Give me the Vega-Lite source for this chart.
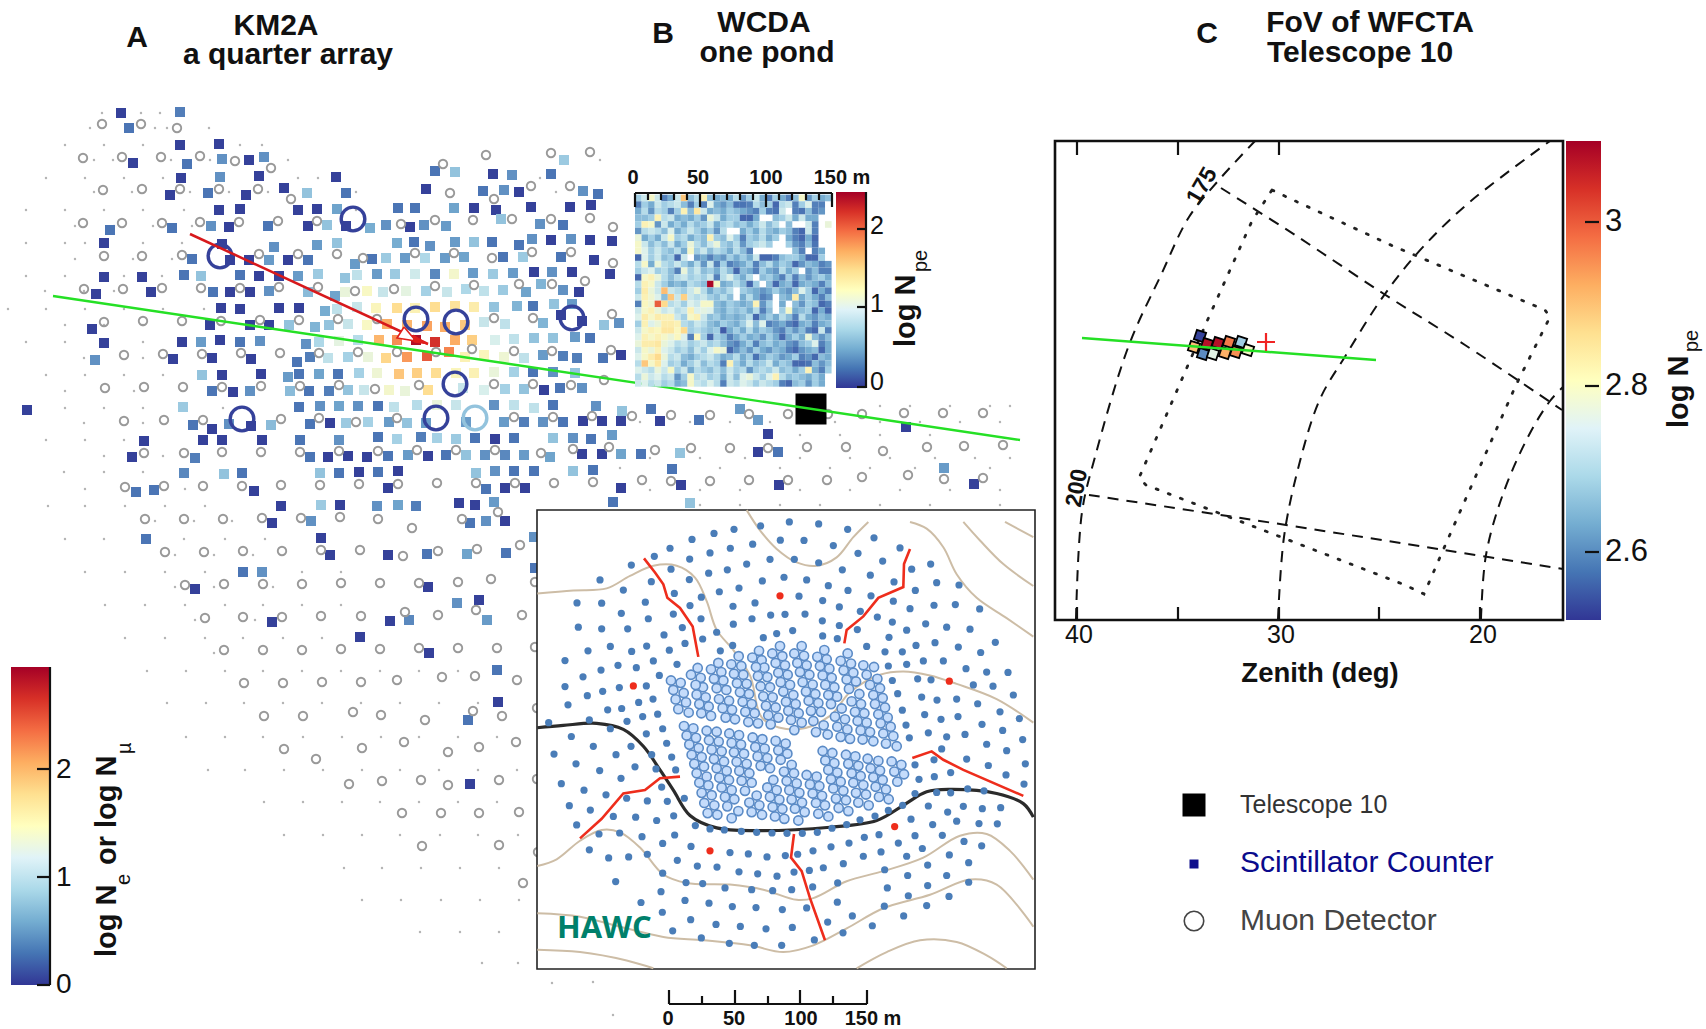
{"$schema":"https://vega.github.io/schema/vega-lite/v6.json","width":1706,"height":1029,"padding":0,"autosize":{"type":"none"},"background":"white","config":{"view":{"stroke":null},"font":"Liberation Sans"},
"datasets":{
"dots":[{"x":102,"y":113},{"x":141,"y":113},{"x":160,"y":113},{"x":90,"y":128},{"x":155,"y":128},{"x":167,"y":128},{"x":209,"y":128},{"x":65,"y":145},{"x":104,"y":145},{"x":143,"y":145},{"x":240,"y":145},{"x":262,"y":145},{"x":94,"y":160},{"x":113,"y":160},{"x":171,"y":160},{"x":210,"y":160},{"x":288,"y":160},{"x":600,"y":160},{"x":46,"y":178},{"x":85,"y":178},{"x":124,"y":178},{"x":163,"y":178},{"x":298,"y":178},{"x":318,"y":178},{"x":540,"y":178},{"x":94,"y":192},{"x":132,"y":192},{"x":190,"y":192},{"x":229,"y":192},{"x":268,"y":192},{"x":356,"y":192},{"x":516,"y":192},{"x":556,"y":192},{"x":26,"y":210},{"x":65,"y":210},{"x":104,"y":210},{"x":143,"y":210},{"x":184,"y":210},{"x":356,"y":210},{"x":395,"y":210},{"x":75,"y":226},{"x":114,"y":226},{"x":153,"y":226},{"x":192,"y":226},{"x":26,"y":243},{"x":65,"y":243},{"x":85,"y":243},{"x":143,"y":243},{"x":182,"y":243},{"x":75,"y":259},{"x":133,"y":259},{"x":172,"y":259},{"x":26,"y":276},{"x":65,"y":276},{"x":124,"y":276},{"x":162,"y":276},{"x":45,"y":291},{"x":84,"y":291},{"x":114,"y":291},{"x":8,"y":309},{"x":46,"y":309},{"x":85,"y":309},{"x":124,"y":309},{"x":163,"y":309},{"x":204,"y":309},{"x":65,"y":325},{"x":104,"y":325},{"x":143,"y":325},{"x":26,"y":342},{"x":65,"y":342},{"x":143,"y":342},{"x":84,"y":358},{"x":143,"y":358},{"x":46,"y":375},{"x":85,"y":375},{"x":124,"y":375},{"x":163,"y":375},{"x":65,"y":391},{"x":134,"y":391},{"x":65,"y":408},{"x":104,"y":408},{"x":143,"y":408},{"x":223,"y":408},{"x":84,"y":423},{"x":143,"y":423},{"x":46,"y":440},{"x":85,"y":440},{"x":124,"y":440},{"x":104,"y":456},{"x":163,"y":456},{"x":64,"y":472},{"x":104,"y":472},{"x":143,"y":472},{"x":85,"y":489},{"x":185,"y":489},{"x":48,"y":506},{"x":85,"y":506},{"x":125,"y":506},{"x":165,"y":506},{"x":205,"y":506},{"x":155,"y":521},{"x":194,"y":521},{"x":232,"y":521},{"x":65,"y":539},{"x":104,"y":539},{"x":184,"y":539},{"x":225,"y":539},{"x":265,"y":539},{"x":175,"y":555},{"x":214,"y":555},{"x":253,"y":555},{"x":85,"y":572},{"x":125,"y":572},{"x":165,"y":572},{"x":205,"y":572},{"x":302,"y":572},{"x":341,"y":572},{"x":175,"y":587},{"x":214,"y":587},{"x":273,"y":587},{"x":105,"y":605},{"x":145,"y":605},{"x":185,"y":605},{"x":225,"y":605},{"x":263,"y":605},{"x":302,"y":605},{"x":341,"y":605},{"x":195,"y":620},{"x":255,"y":620},{"x":125,"y":638},{"x":165,"y":638},{"x":205,"y":638},{"x":243,"y":638},{"x":283,"y":638},{"x":322,"y":638},{"x":214,"y":653},{"x":147,"y":671},{"x":186,"y":671},{"x":225,"y":671},{"x":263,"y":671},{"x":302,"y":671},{"x":341,"y":671},{"x":380,"y":671},{"x":419,"y":671},{"x":458,"y":671},{"x":497,"y":671},{"x":167,"y":703},{"x":206,"y":703},{"x":244,"y":703},{"x":283,"y":703},{"x":322,"y":703},{"x":361,"y":703},{"x":400,"y":703},{"x":439,"y":703},{"x":478,"y":703},{"x":186,"y":737},{"x":225,"y":737},{"x":263,"y":737},{"x":303,"y":737},{"x":342,"y":737},{"x":381,"y":737},{"x":419,"y":737},{"x":458,"y":737},{"x":497,"y":737},{"x":208,"y":770},{"x":245,"y":770},{"x":284,"y":770},{"x":323,"y":770},{"x":362,"y":770},{"x":400,"y":770},{"x":439,"y":770},{"x":478,"y":770},{"x":517,"y":770},{"x":264,"y":802},{"x":303,"y":802},{"x":342,"y":802},{"x":380,"y":802},{"x":419,"y":802},{"x":458,"y":802},{"x":497,"y":802},{"x":284,"y":835},{"x":323,"y":835},{"x":362,"y":835},{"x":400,"y":835},{"x":440,"y":835},{"x":478,"y":835},{"x":518,"y":835},{"x":344,"y":868},{"x":382,"y":868},{"x":421,"y":868},{"x":460,"y":868},{"x":499,"y":868},{"x":362,"y":900},{"x":401,"y":900},{"x":441,"y":900},{"x":480,"y":900},{"x":519,"y":900},{"x":420,"y":932},{"x":460,"y":932},{"x":499,"y":932},{"x":482,"y":963},{"x":518,"y":963},{"x":552,"y":983},{"x":593,"y":982},{"x":613,"y":1015},{"x":880,"y":406},{"x":910,"y":406},{"x":950,"y":406},{"x":990,"y":406},{"x":1010,"y":406},{"x":640,"y":422},{"x":690,"y":422},{"x":730,"y":422},{"x":770,"y":422},{"x":835,"y":422},{"x":880,"y":422},{"x":920,"y":422},{"x":960,"y":422},{"x":1000,"y":422},{"x":800,"y":435},{"x":840,"y":435},{"x":880,"y":435},{"x":930,"y":435},{"x":650,"y":458},{"x":700,"y":458},{"x":745,"y":458},{"x":800,"y":458},{"x":850,"y":458},{"x":890,"y":458},{"x":935,"y":458},{"x":975,"y":458},{"x":1010,"y":458},{"x":620,"y":468},{"x":720,"y":468},{"x":780,"y":468},{"x":830,"y":468},{"x":870,"y":468},{"x":915,"y":468},{"x":990,"y":468},{"x":650,"y":490},{"x":700,"y":490},{"x":740,"y":490},{"x":800,"y":490},{"x":850,"y":490},{"x":900,"y":490},{"x":950,"y":490},{"x":1000,"y":490},{"x":700,"y":505},{"x":740,"y":505},{"x":780,"y":505},{"x":820,"y":505},{"x":880,"y":505},{"x":930,"y":505},{"x":1000,"y":505}],
"sq":[{"x":121,"y":113,"v":0.05},{"x":180,"y":112,"v":0.35},{"x":129,"y":128,"v":0.3},{"x":180,"y":145,"v":0.05},{"x":219,"y":144,"v":0.05},{"x":133,"y":163,"v":0.05},{"x":187,"y":164,"v":0.3},{"x":222,"y":159,"v":0.45},{"x":249,"y":160,"v":0.05},{"x":264,"y":157,"v":0.45},{"x":181,"y":178,"v":0.05},{"x":220,"y":177,"v":0.45},{"x":259,"y":176,"v":0.05},{"x":336,"y":177,"v":0.05},{"x":435,"y":171,"v":0.3},{"x":455,"y":172,"v":0.75},{"x":564,"y":160,"v":0.8},{"x":493,"y":174,"v":0.05},{"x":512,"y":175,"v":0.45},{"x":551,"y":174,"v":0.3},{"x":170,"y":195,"v":0.05},{"x":208,"y":193,"v":0.3},{"x":246,"y":195,"v":0.05},{"x":284,"y":188,"v":0.05},{"x":307,"y":193,"v":0.75},{"x":346,"y":193,"v":0.3},{"x":426,"y":189,"v":0.05},{"x":483,"y":191,"v":0.3},{"x":504,"y":190,"v":0.45},{"x":519,"y":192,"v":0.05},{"x":583,"y":191,"v":0.45},{"x":598,"y":194,"v":0.3},{"x":219,"y":210,"v":0.05},{"x":240,"y":209,"v":0.05},{"x":298,"y":210,"v":0.05},{"x":317,"y":209,"v":0.05},{"x":337,"y":209,"v":0.55},{"x":398,"y":208,"v":0.3},{"x":415,"y":208,"v":0.3},{"x":454,"y":208,"v":0.55},{"x":474,"y":208,"v":0.05},{"x":496,"y":210,"v":0.05},{"x":531,"y":207,"v":0.05},{"x":570,"y":207,"v":0.05},{"x":591,"y":205,"v":0.05},{"x":110,"y":230,"v":0.3},{"x":172,"y":228,"v":0.3},{"x":211,"y":226,"v":0.45},{"x":229,"y":227,"v":0.05},{"x":268,"y":226,"v":0.3},{"x":308,"y":226,"v":0.05},{"x":327,"y":225,"v":0.75},{"x":346,"y":226,"v":0.05},{"x":370,"y":228,"v":0.6},{"x":386,"y":225,"v":0.45},{"x":410,"y":227,"v":0.05},{"x":424,"y":225,"v":0.45},{"x":446,"y":226,"v":0.5},{"x":501,"y":219,"v":0.75},{"x":540,"y":224,"v":0.45},{"x":563,"y":225,"v":0.3},{"x":104,"y":243,"v":0.05},{"x":222,"y":244,"v":0.05},{"x":274,"y":247,"v":0.45},{"x":317,"y":245,"v":0.5},{"x":337,"y":243,"v":0.75},{"x":397,"y":243,"v":0.6},{"x":414,"y":242,"v":0.3},{"x":430,"y":246,"v":0.45},{"x":455,"y":242,"v":0.5},{"x":474,"y":242,"v":0.75},{"x":492,"y":242,"v":0.3},{"x":519,"y":245,"v":0.3},{"x":532,"y":239,"v":0.45},{"x":551,"y":240,"v":0.05},{"x":571,"y":239,"v":0.45},{"x":590,"y":240,"v":0.05},{"x":612,"y":241,"v":0.05},{"x":192,"y":259,"v":0.3},{"x":230,"y":260,"v":0.05},{"x":249,"y":260,"v":0.05},{"x":269,"y":260,"v":0.5},{"x":288,"y":260,"v":0.05},{"x":308,"y":260,"v":0.3},{"x":355,"y":264,"v":0.5},{"x":372,"y":259,"v":0.3},{"x":386,"y":258,"v":0.8},{"x":405,"y":258,"v":0.5},{"x":425,"y":258,"v":0.9},{"x":445,"y":258,"v":0.5},{"x":464,"y":257,"v":0.55},{"x":503,"y":257,"v":0.3},{"x":523,"y":257,"v":0.8},{"x":561,"y":257,"v":0.3},{"x":594,"y":260,"v":0.05},{"x":184,"y":275,"v":0.3},{"x":201,"y":276,"v":0.75},{"x":240,"y":275,"v":0.3},{"x":259,"y":276,"v":0.05},{"x":279,"y":276,"v":0.05},{"x":298,"y":276,"v":0.5},{"x":318,"y":274,"v":0.8},{"x":345,"y":278,"v":0.75},{"x":357,"y":275,"v":1.0},{"x":377,"y":274,"v":0.5},{"x":395,"y":274,"v":0.8},{"x":415,"y":274,"v":1.1},{"x":435,"y":274,"v":0.4},{"x":454,"y":274,"v":1.4},{"x":473,"y":273,"v":0.5},{"x":493,"y":274,"v":0.8},{"x":513,"y":273,"v":0.5},{"x":534,"y":272,"v":0.05},{"x":552,"y":272,"v":0.45},{"x":572,"y":272,"v":0.05},{"x":610,"y":274,"v":0.05},{"x":104,"y":277,"v":0.05},{"x":142,"y":277,"v":0.05},{"x":96,"y":294,"v":0.05},{"x":151,"y":292,"v":0.05},{"x":213,"y":292,"v":0.3},{"x":230,"y":292,"v":0.05},{"x":250,"y":292,"v":0.05},{"x":269,"y":291,"v":0.45},{"x":308,"y":292,"v":0.7},{"x":335,"y":296,"v":0.55},{"x":345,"y":292,"v":1.3},{"x":367,"y":291,"v":1.45},{"x":383,"y":292,"v":1.05},{"x":406,"y":291,"v":1.25},{"x":426,"y":291,"v":0.85},{"x":447,"y":292,"v":1.05},{"x":466,"y":289,"v":0.9},{"x":484,"y":291,"v":1.0},{"x":503,"y":290,"v":0.8},{"x":526,"y":292,"v":0.55},{"x":541,"y":284,"v":0.65},{"x":563,"y":290,"v":0.45},{"x":579,"y":292,"v":0.05},{"x":221,"y":308,"v":0.05},{"x":240,"y":309,"v":0.05},{"x":279,"y":308,"v":0.05},{"x":299,"y":308,"v":0.05},{"x":325,"y":311,"v":0.6},{"x":337,"y":309,"v":1.0},{"x":357,"y":307,"v":1.05},{"x":376,"y":308,"v":1.5},{"x":397,"y":308,"v":1.75},{"x":415,"y":308,"v":1.55},{"x":435,"y":307,"v":1.75},{"x":455,"y":306,"v":1.7},{"x":474,"y":307,"v":1.6},{"x":494,"y":307,"v":0.75},{"x":517,"y":306,"v":0.65},{"x":533,"y":306,"v":0.3},{"x":554,"y":304,"v":0.75},{"x":572,"y":304,"v":0.5},{"x":561,"y":315,"v":0.05},{"x":582,"y":321,"v":0.05},{"x":92,"y":329,"v":0.05},{"x":210,"y":325,"v":0.05},{"x":250,"y":325,"v":0.05},{"x":269,"y":325,"v":0.05},{"x":289,"y":325,"v":0.75},{"x":315,"y":327,"v":0.65},{"x":329,"y":325,"v":0.75},{"x":348,"y":324,"v":1.05},{"x":367,"y":325,"v":1.45},{"x":387,"y":324,"v":2.05},{"x":407,"y":325,"v":2.0},{"x":427,"y":326,"v":2.1},{"x":445,"y":327,"v":2.05},{"x":465,"y":325,"v":1.9},{"x":484,"y":322,"v":1.05},{"x":505,"y":324,"v":1.0},{"x":543,"y":323,"v":0.65},{"x":604,"y":325,"v":0.75},{"x":619,"y":323,"v":0.45},{"x":104,"y":343,"v":0.05},{"x":182,"y":342,"v":0.05},{"x":201,"y":342,"v":0.5},{"x":220,"y":340,"v":0.05},{"x":240,"y":342,"v":0.3},{"x":260,"y":341,"v":0.45},{"x":306,"y":344,"v":0.45},{"x":319,"y":342,"v":0.9},{"x":339,"y":341,"v":1.25},{"x":358,"y":340,"v":0.95},{"x":379,"y":340,"v":2.0},{"x":397,"y":340,"v":2.2},{"x":416,"y":340,"v":2.85},{"x":435,"y":342,"v":2.65},{"x":455,"y":340,"v":2.05},{"x":472,"y":340,"v":1.85},{"x":495,"y":340,"v":1.15},{"x":514,"y":339,"v":1.0},{"x":534,"y":338,"v":0.75},{"x":553,"y":338,"v":0.75},{"x":575,"y":337,"v":0.5},{"x":590,"y":338,"v":0.3},{"x":95,"y":360,"v":0.45},{"x":173,"y":359,"v":0.05},{"x":212,"y":358,"v":0.05},{"x":251,"y":359,"v":0.05},{"x":297,"y":362,"v":0.3},{"x":310,"y":357,"v":0.35},{"x":328,"y":358,"v":1.0},{"x":348,"y":357,"v":0.85},{"x":368,"y":357,"v":1.3},{"x":386,"y":358,"v":1.8},{"x":407,"y":357,"v":2.15},{"x":427,"y":356,"v":2.45},{"x":449,"y":352,"v":2.25},{"x":465,"y":357,"v":1.55},{"x":484,"y":355,"v":1.5},{"x":504,"y":357,"v":1.35},{"x":524,"y":358,"v":1.0},{"x":543,"y":355,"v":0.5},{"x":563,"y":356,"v":0.35},{"x":577,"y":358,"v":0.35},{"x":603,"y":358,"v":0.3},{"x":621,"y":355,"v":0.05},{"x":202,"y":375,"v":0.75},{"x":222,"y":375,"v":0.05},{"x":261,"y":374,"v":0.05},{"x":288,"y":377,"v":0.5},{"x":299,"y":374,"v":0.3},{"x":319,"y":374,"v":0.55},{"x":338,"y":374,"v":0.3},{"x":359,"y":373,"v":0.85},{"x":377,"y":373,"v":1.35},{"x":399,"y":374,"v":1.9},{"x":417,"y":373,"v":1.85},{"x":436,"y":373,"v":1.75},{"x":456,"y":373,"v":1.5},{"x":474,"y":373,"v":1.55},{"x":494,"y":372,"v":1.3},{"x":514,"y":372,"v":0.85},{"x":533,"y":372,"v":0.3},{"x":553,"y":372,"v":0.45},{"x":575,"y":373,"v":0.75},{"x":212,"y":391,"v":0.3},{"x":233,"y":392,"v":0.05},{"x":250,"y":391,"v":0.45},{"x":290,"y":391,"v":0.7},{"x":309,"y":391,"v":0.3},{"x":329,"y":391,"v":0.35},{"x":348,"y":390,"v":0.75},{"x":364,"y":390,"v":1.05},{"x":389,"y":390,"v":1.4},{"x":405,"y":391,"v":1.3},{"x":428,"y":390,"v":1.75},{"x":463,"y":388,"v":1.05},{"x":484,"y":390,"v":1.15},{"x":505,"y":389,"v":0.85},{"x":524,"y":389,"v":0.75},{"x":544,"y":390,"v":0.05},{"x":560,"y":388,"v":0.3},{"x":582,"y":388,"v":0.45},{"x":27,"y":410,"v":0.05},{"x":183,"y":407,"v":0.8},{"x":299,"y":407,"v":0.3},{"x":320,"y":406,"v":0.45},{"x":339,"y":406,"v":0.55},{"x":358,"y":406,"v":0.45},{"x":378,"y":406,"v":0.3},{"x":394,"y":407,"v":1.0},{"x":417,"y":405,"v":0.95},{"x":437,"y":405,"v":1.3},{"x":456,"y":405,"v":1.05},{"x":494,"y":405,"v":0.45},{"x":514,"y":405,"v":1.0},{"x":534,"y":408,"v":1.0},{"x":553,"y":405,"v":0.3},{"x":596,"y":406,"v":0.45},{"x":622,"y":411,"v":0.75},{"x":193,"y":425,"v":0.3},{"x":212,"y":429,"v":0.05},{"x":229,"y":424,"v":0.45},{"x":251,"y":426,"v":0.05},{"x":271,"y":425,"v":0.7},{"x":310,"y":424,"v":0.3},{"x":330,"y":423,"v":0.05},{"x":346,"y":423,"v":0.8},{"x":368,"y":422,"v":0.85},{"x":389,"y":422,"v":0.5},{"x":407,"y":423,"v":0.75},{"x":426,"y":423,"v":0.5},{"x":466,"y":422,"v":0.5},{"x":504,"y":422,"v":0.5},{"x":524,"y":422,"v":0.35},{"x":543,"y":422,"v":0.45},{"x":563,"y":422,"v":0.3},{"x":583,"y":421,"v":0.05},{"x":602,"y":421,"v":0.05},{"x":621,"y":421,"v":0.05},{"x":144,"y":441,"v":0.05},{"x":203,"y":440,"v":0.05},{"x":222,"y":440,"v":0.05},{"x":262,"y":440,"v":0.05},{"x":300,"y":440,"v":0.3},{"x":339,"y":440,"v":0.45},{"x":378,"y":437,"v":0.3},{"x":397,"y":439,"v":0.85},{"x":421,"y":437,"v":0.35},{"x":437,"y":438,"v":0.85},{"x":456,"y":439,"v":0.8},{"x":475,"y":438,"v":0.3},{"x":495,"y":439,"v":0.05},{"x":514,"y":438,"v":0.3},{"x":553,"y":438,"v":0.75},{"x":573,"y":438,"v":0.45},{"x":591,"y":439,"v":0.3},{"x":612,"y":435,"v":0.5},{"x":132,"y":457,"v":0.05},{"x":195,"y":458,"v":0.35},{"x":310,"y":457,"v":0.3},{"x":328,"y":457,"v":0.05},{"x":348,"y":456,"v":0.05},{"x":367,"y":457,"v":0.05},{"x":388,"y":456,"v":0.3},{"x":408,"y":455,"v":0.5},{"x":428,"y":456,"v":0.05},{"x":446,"y":455,"v":0.3},{"x":466,"y":455,"v":0.75},{"x":485,"y":455,"v":0.45},{"x":505,"y":455,"v":0.4},{"x":524,"y":455,"v":0.5},{"x":550,"y":457,"v":0.55},{"x":582,"y":454,"v":0.05},{"x":602,"y":454,"v":0.05},{"x":621,"y":454,"v":0.55},{"x":184,"y":473,"v":0.4},{"x":224,"y":474,"v":0.75},{"x":242,"y":473,"v":0.3},{"x":320,"y":473,"v":0.75},{"x":339,"y":473,"v":0.3},{"x":359,"y":472,"v":0.05},{"x":378,"y":472,"v":0.3},{"x":398,"y":471,"v":0.05},{"x":476,"y":473,"v":0.75},{"x":495,"y":471,"v":0.45},{"x":514,"y":471,"v":0.3},{"x":534,"y":471,"v":0.3},{"x":573,"y":471,"v":0.75},{"x":593,"y":470,"v":0.3},{"x":136,"y":492,"v":0.3},{"x":154,"y":490,"v":0.3},{"x":254,"y":491,"v":0.05},{"x":388,"y":488,"v":0.05},{"x":486,"y":489,"v":0.3},{"x":505,"y":488,"v":0.05},{"x":525,"y":488,"v":0.05},{"x":621,"y":488,"v":0.05},{"x":281,"y":506,"v":0.05},{"x":321,"y":505,"v":0.8},{"x":340,"y":505,"v":0.05},{"x":377,"y":506,"v":0.45},{"x":398,"y":505,"v":0.55},{"x":416,"y":506,"v":0.35},{"x":459,"y":503,"v":0.05},{"x":475,"y":505,"v":0.05},{"x":494,"y":502,"v":0.5},{"x":613,"y":502,"v":0.3},{"x":690,"y":503,"v":0.75},{"x":272,"y":523,"v":0.05},{"x":311,"y":521,"v":0.45},{"x":470,"y":523,"v":0.3},{"x":486,"y":521,"v":0.45},{"x":505,"y":521,"v":0.05},{"x":146,"y":539,"v":0.3},{"x":321,"y":538,"v":0.05},{"x":534,"y":537,"v":0.45},{"x":330,"y":555,"v":0.05},{"x":388,"y":555,"v":0.05},{"x":427,"y":554,"v":0.3},{"x":467,"y":554,"v":0.55},{"x":506,"y":553,"v":0.3},{"x":243,"y":572,"v":0.3},{"x":262,"y":572,"v":0.45},{"x":535,"y":568,"v":0.3},{"x":195,"y":589,"v":0.05},{"x":428,"y":587,"v":0.05},{"x":457,"y":603,"v":0.45},{"x":479,"y":600,"v":0.05},{"x":272,"y":622,"v":0.05},{"x":390,"y":621,"v":0.05},{"x":409,"y":620,"v":0.4},{"x":487,"y":620,"v":0.5},{"x":360,"y":637,"v":0.05},{"x":429,"y":653,"v":0.05},{"x":497,"y":670,"v":0.3},{"x":498,"y":702,"v":0.05},{"x":468,"y":720,"v":0.3},{"x":470,"y":784,"v":0.05},{"x":651,"y":409,"v":0.3},{"x":660,"y":421,"v":0.05},{"x":699,"y":420,"v":0.3},{"x":740,"y":409,"v":0.5},{"x":758,"y":420,"v":0.5},{"x":768,"y":434,"v":0.05},{"x":906,"y":427,"v":0.05},{"x":641,"y":454,"v":0.3},{"x":680,"y":453,"v":0.75},{"x":758,"y":452,"v":0.05},{"x":778,"y":452,"v":0.3},{"x":672,"y":469,"v":0.3},{"x":681,"y":485,"v":0.05},{"x":779,"y":485,"v":0.05},{"x":944,"y":468,"v":0.5},{"x":974,"y":484,"v":0.05}],
"mu":[{"x":102,"y":124},{"x":141,"y":124},{"x":177,"y":128},{"x":83,"y":158},{"x":122,"y":157},{"x":161,"y":157},{"x":200,"y":156},{"x":235,"y":161},{"x":271,"y":168},{"x":443,"y":164},{"x":486,"y":155},{"x":551,"y":153},{"x":590,"y":152},{"x":103,"y":190},{"x":142,"y":189},{"x":180,"y":189},{"x":219,"y":189},{"x":258,"y":189},{"x":291,"y":199},{"x":450,"y":193},{"x":494,"y":199},{"x":531,"y":186},{"x":570,"y":186},{"x":83,"y":223},{"x":122,"y":223},{"x":162,"y":223},{"x":200,"y":222},{"x":239,"y":222},{"x":278,"y":221},{"x":317,"y":221},{"x":401,"y":224},{"x":435,"y":220},{"x":473,"y":220},{"x":512,"y":219},{"x":551,"y":219},{"x":590,"y":218},{"x":613,"y":227},{"x":104,"y":256},{"x":142,"y":256},{"x":182,"y":255},{"x":259,"y":254},{"x":298,"y":254},{"x":337,"y":254},{"x":363,"y":258},{"x":415,"y":253},{"x":454,"y":253},{"x":492,"y":258},{"x":532,"y":252},{"x":571,"y":252},{"x":613,"y":263},{"x":84,"y":289},{"x":123,"y":289},{"x":162,"y":288},{"x":201,"y":288},{"x":240,"y":288},{"x":279,"y":287},{"x":318,"y":287},{"x":355,"y":291},{"x":394,"y":289},{"x":435,"y":286},{"x":474,"y":285},{"x":519,"y":284},{"x":552,"y":284},{"x":585,"y":281},{"x":104,"y":322},{"x":143,"y":321},{"x":182,"y":321},{"x":221,"y":321},{"x":260,"y":320},{"x":299,"y":320},{"x":338,"y":319},{"x":377,"y":319},{"x":494,"y":318},{"x":533,"y":318},{"x":612,"y":314},{"x":124,"y":355},{"x":163,"y":354},{"x":202,"y":354},{"x":241,"y":353},{"x":280,"y":353},{"x":319,"y":353},{"x":358,"y":352},{"x":397,"y":352},{"x":436,"y":352},{"x":472,"y":349},{"x":514,"y":351},{"x":552,"y":351},{"x":611,"y":350},{"x":105,"y":388},{"x":144,"y":387},{"x":183,"y":387},{"x":222,"y":387},{"x":261,"y":386},{"x":300,"y":386},{"x":339,"y":385},{"x":375,"y":389},{"x":419,"y":385},{"x":494,"y":384},{"x":533,"y":384},{"x":571,"y":385},{"x":604,"y":380},{"x":124,"y":421},{"x":164,"y":420},{"x":203,"y":420},{"x":281,"y":419},{"x":319,"y":418},{"x":356,"y":422},{"x":397,"y":418},{"x":514,"y":417},{"x":553,"y":417},{"x":592,"y":416},{"x":632,"y":416},{"x":144,"y":453},{"x":184,"y":453},{"x":222,"y":452},{"x":261,"y":452},{"x":300,"y":452},{"x":339,"y":451},{"x":378,"y":451},{"x":417,"y":450},{"x":456,"y":450},{"x":495,"y":450},{"x":541,"y":453},{"x":573,"y":449},{"x":609,"y":447},{"x":125,"y":487},{"x":164,"y":486},{"x":203,"y":486},{"x":242,"y":486},{"x":281,"y":485},{"x":320,"y":485},{"x":359,"y":484},{"x":398,"y":484},{"x":437,"y":483},{"x":476,"y":483},{"x":515,"y":483},{"x":554,"y":483},{"x":593,"y":482},{"x":145,"y":519},{"x":184,"y":519},{"x":223,"y":519},{"x":262,"y":518},{"x":301,"y":518},{"x":340,"y":517},{"x":378,"y":519},{"x":412,"y":528},{"x":462,"y":519},{"x":498,"y":512},{"x":165,"y":552},{"x":204,"y":552},{"x":243,"y":551},{"x":282,"y":551},{"x":321,"y":550},{"x":360,"y":550},{"x":403,"y":556},{"x":438,"y":551},{"x":477,"y":549},{"x":520,"y":545},{"x":185,"y":585},{"x":224,"y":584},{"x":263,"y":584},{"x":302,"y":584},{"x":341,"y":583},{"x":380,"y":583},{"x":419,"y":583},{"x":458,"y":582},{"x":491,"y":579},{"x":535,"y":582},{"x":205,"y":618},{"x":243,"y":617},{"x":282,"y":617},{"x":321,"y":616},{"x":361,"y":616},{"x":405,"y":612},{"x":438,"y":615},{"x":476,"y":610},{"x":522,"y":615},{"x":224,"y":650},{"x":263,"y":650},{"x":302,"y":650},{"x":341,"y":649},{"x":380,"y":649},{"x":419,"y":648},{"x":458,"y":648},{"x":497,"y":648},{"x":535,"y":647},{"x":244,"y":683},{"x":283,"y":683},{"x":322,"y":682},{"x":361,"y":682},{"x":397,"y":680},{"x":442,"y":677},{"x":475,"y":676},{"x":517,"y":680},{"x":264,"y":716},{"x":303,"y":716},{"x":353,"y":712},{"x":381,"y":715},{"x":425,"y":720},{"x":473,"y":711},{"x":502,"y":716},{"x":537,"y":708},{"x":284,"y":749},{"x":316,"y":759},{"x":362,"y":748},{"x":404,"y":742},{"x":448,"y":752},{"x":479,"y":747},{"x":516,"y":742},{"x":349,"y":784},{"x":382,"y":781},{"x":421,"y":780},{"x":448,"y":785},{"x":499,"y":780},{"x":537,"y":779},{"x":402,"y":813},{"x":441,"y":813},{"x":479,"y":813},{"x":519,"y":812},{"x":422,"y":846},{"x":499,"y":845},{"x":538,"y":852},{"x":523,"y":883},{"x":671,"y":415},{"x":710,"y":415},{"x":749,"y":414},{"x":788,"y":414},{"x":828,"y":414},{"x":862,"y":414},{"x":904,"y":413},{"x":943,"y":413},{"x":983,"y":413},{"x":655,"y":450},{"x":691,"y":448},{"x":730,"y":448},{"x":768,"y":448},{"x":807,"y":447},{"x":846,"y":447},{"x":883,"y":451},{"x":927,"y":447},{"x":964,"y":446},{"x":1003,"y":445},{"x":642,"y":480},{"x":671,"y":481},{"x":710,"y":481},{"x":749,"y":480},{"x":788,"y":480},{"x":827,"y":480},{"x":862,"y":477},{"x":908,"y":475},{"x":944,"y":479},{"x":983,"y":478}],
"bigr":[{"x":353,"y":219,"v":0.05},{"x":220,"y":256,"v":0.05},{"x":416,"y":319,"v":0.05},{"x":456,"y":322,"v":0.05},{"x":572,"y":318,"v":0.05},{"x":455,"y":384,"v":0.05},{"x":242,"y":419,"v":0.05},{"x":436,"y":418,"v":0.05},{"x":475,"y":418,"v":0.75}],
"arrow":[{"p":"a","o":1,"x":190,"y":234},{"p":"a","o":2,"x":428,"y":344}],
"whitetri":[{"p":"w","o":1,"x":404,"y":327},{"p":"w","o":2,"x":397,"y":338},{"p":"w","o":3,"x":416,"y":341},{"p":"w","o":4,"x":404,"y":327}],
"redtri":[{"p":"r","o":1,"x":413,"y":335},{"p":"r","o":2,"x":428,"y":344},{"p":"r","o":3,"x":414,"y":342},{"p":"r","o":4,"x":413,"y":335}],
"green":[{"p":"g1","o":1,"x":53,"y":296},{"p":"g1","o":2,"x":1020,"y":440},{"p":"g2","o":1,"x":1082,"y":338},{"p":"g2","o":2,"x":1376,"y":360}],
"tel":[{"x":811,"y":409}],
"inframe":[{"x":537,"x2":1035,"y":510,"y2":969}],
"tan":[{"p":"c1","o":1,"x":22,"y":277},{"p":"c1","o":2,"x":130,"y":268},{"p":"c1","o":3,"x":230,"y":262},{"p":"c1","o":4,"x":300,"y":225},{"p":"c1","o":5,"x":370,"y":195},{"p":"c1","o":6,"x":440,"y":195},{"p":"c1","o":7,"x":495,"y":230},{"p":"c1","o":8,"x":530,"y":300},{"p":"c1","o":9,"x":560,"y":385},{"p":"c1","o":10,"x":610,"y":445},{"p":"c1","o":11,"x":660,"y":520},{"p":"c1","o":12,"x":700,"y":650},{"p":"c1","o":13,"x":800,"y":680},{"p":"c1","o":14,"x":900,"y":640},{"p":"c1","o":15,"x":960,"y":570},{"p":"c1","o":16,"x":1050,"y":518},{"p":"c1","o":17,"x":1120,"y":508},{"p":"c1","o":18,"x":1200,"y":520},{"p":"c1","o":19,"x":1280,"y":545},{"p":"c1","o":20,"x":1400,"y":590},{"p":"c1","o":21,"x":1510,"y":660},{"p":"c2","o":1,"x":650,"y":30},{"p":"c2","o":2,"x":690,"y":90},{"p":"c2","o":3,"x":740,"y":145},{"p":"c2","o":4,"x":800,"y":185},{"p":"c2","o":5,"x":860,"y":195},{"p":"c2","o":6,"x":920,"y":170},{"p":"c2","o":7,"x":970,"y":110},{"p":"c2","o":8,"x":1015,"y":65},{"p":"c3","o":1,"x":1140,"y":65},{"p":"c3","o":2,"x":1190,"y":85},{"p":"c3","o":3,"x":1240,"y":140},{"p":"c3","o":4,"x":1280,"y":220},{"p":"c3","o":5,"x":1340,"y":290},{"p":"c3","o":6,"x":1430,"y":350},{"p":"c3","o":7,"x":1510,"y":405},{"p":"c4","o":1,"x":1300,"y":65},{"p":"c4","o":2,"x":1350,"y":120},{"p":"c4","o":3,"x":1420,"y":190},{"p":"c4","o":4,"x":1510,"y":255},{"p":"c5","o":1,"x":1425,"y":65},{"p":"c5","o":2,"x":1510,"y":110},{"p":"c7","o":1,"x":22,"y":1085},{"p":"c7","o":2,"x":80,"y":1065},{"p":"c7","o":3,"x":150,"y":1010},{"p":"c7","o":4,"x":215,"y":978},{"p":"c7","o":5,"x":270,"y":985},{"p":"c7","o":6,"x":330,"y":1030},{"p":"c7","o":7,"x":400,"y":1110},{"p":"c7","o":8,"x":470,"y":1135},{"p":"c7","o":9,"x":600,"y":1140},{"p":"c7","o":10,"x":700,"y":1155},{"p":"c7","o":11,"x":800,"y":1185},{"p":"c7","o":12,"x":850,"y":1180},{"p":"c7","o":13,"x":950,"y":1130},{"p":"c7","o":14,"x":1060,"y":1100},{"p":"c7","o":15,"x":1180,"y":1060},{"p":"c7","o":16,"x":1290,"y":995},{"p":"c7","o":17,"x":1370,"y":990},{"p":"c7","o":18,"x":1440,"y":1040},{"p":"c7","o":19,"x":1510,"y":1125},{"p":"c8","o":1,"x":22,"y":1225},{"p":"c8","o":2,"x":150,"y":1235},{"p":"c8","o":3,"x":270,"y":1265},{"p":"c8","o":4,"x":400,"y":1295},{"p":"c8","o":5,"x":520,"y":1305},{"p":"c8","o":6,"x":660,"y":1320},{"p":"c8","o":7,"x":760,"y":1340},{"p":"c8","o":8,"x":850,"y":1320},{"p":"c8","o":9,"x":950,"y":1270},{"p":"c8","o":10,"x":1060,"y":1210},{"p":"c8","o":11,"x":1200,"y":1170},{"p":"c8","o":12,"x":1320,"y":1125},{"p":"c8","o":13,"x":1400,"y":1140},{"p":"c8","o":14,"x":1510,"y":1265},{"p":"c9","o":1,"x":22,"y":1333},{"p":"c9","o":2,"x":150,"y":1340},{"p":"c9","o":3,"x":290,"y":1365},{"p":"c9","o":4,"x":370,"y":1388},{"p":"c10","o":1,"x":980,"y":1388},{"p":"c10","o":2,"x":1070,"y":1340},{"p":"c10","o":3,"x":1170,"y":1305},{"p":"c10","o":4,"x":1280,"y":1310},{"p":"c10","o":5,"x":1370,"y":1350},{"p":"c10","o":6,"x":1430,"y":1388}],
"road":[{"p":"b","o":1,"x":22,"y":675},{"p":"b","o":2,"x":100,"y":668},{"p":"b","o":3,"x":200,"y":662},{"p":"b","o":4,"x":280,"y":680},{"p":"b","o":5,"x":340,"y":730},{"p":"b","o":6,"x":390,"y":800},{"p":"b","o":7,"x":430,"y":860},{"p":"b","o":8,"x":480,"y":935},{"p":"b","o":9,"x":560,"y":972},{"p":"b","o":10,"x":680,"y":980},{"p":"b","o":11,"x":900,"y":970},{"p":"b","o":12,"x":1040,"y":950},{"p":"b","o":13,"x":1120,"y":905},{"p":"b","o":14,"x":1190,"y":865},{"p":"b","o":15,"x":1260,"y":858},{"p":"b","o":16,"x":1400,"y":870},{"p":"b","o":17,"x":1480,"y":900},{"p":"b","o":18,"x":1510,"y":940}],
"outer":[{"x":778,"y":65},{"x":866,"y":71},{"x":692,"y":77},{"x":612,"y":87},{"x":552,"y":99},{"x":953,"y":87},{"x":486,"y":117},{"x":751,"y":119},{"x":822,"y":120},{"x":1032,"y":112},{"x":668,"y":131},{"x":910,"y":135},{"x":420,"y":143},{"x":601,"y":143},{"x":1110,"y":142},{"x":373,"y":167},{"x":540,"y":157},{"x":984,"y":158},{"x":479,"y":175},{"x":720,"y":176},{"x":793,"y":176},{"x":1058,"y":181},{"x":304,"y":193},{"x":423,"y":205},{"x":592,"y":207},{"x":650,"y":190},{"x":866,"y":186},{"x":1145,"y":205},{"x":1202,"y":190},{"x":937,"y":207},{"x":536,"y":217},{"x":762,"y":229},{"x":697,"y":240},{"x":830,"y":237},{"x":1021,"y":223},{"x":210,"y":237},{"x":364,"y":242},{"x":478,"y":236},{"x":1092,"y":243},{"x":1220,"y":245},{"x":1287,"y":252},{"x":568,"y":272},{"x":627,"y":261},{"x":895,"y":254},{"x":954,"y":268},{"x":280,"y":267},{"x":433,"y":277},{"x":1156,"y":268},{"x":807,"y":285},{"x":514,"y":288},{"x":1023,"y":284},{"x":878,"y":298},{"x":1090,"y":300},{"x":141,"y":305},{"x":215,"y":306},{"x":346,"y":303},{"x":675,"y":305},{"x":1212,"y":312},{"x":1276,"y":310},{"x":1349,"y":323},{"x":609,"y":315},{"x":480,"y":313},{"x":928,"y":317},{"x":274,"y":336},{"x":430,"y":338},{"x":722,"y":341},{"x":765,"y":339},{"x":825,"y":338},{"x":991,"y":330},{"x":1140,"y":322},{"x":355,"y":352},{"x":513,"y":352},{"x":666,"y":352},{"x":877,"y":358},{"x":1042,"y":347},{"x":145,"y":377},{"x":215,"y":382},{"x":293,"y":382},{"x":610,"y":368},{"x":928,"y":372},{"x":1187,"y":367},{"x":1087,"y":362},{"x":1250,"y":377},{"x":1320,"y":383},{"x":457,"y":378},{"x":982,"y":384},{"x":740,"y":396},{"x":788,"y":387},{"x":1130,"y":386},{"x":402,"y":400},{"x":560,"y":392},{"x":700,"y":408},{"x":878,"y":403},{"x":1077,"y":407},{"x":518,"y":412},{"x":922,"y":411},{"x":350,"y":433},{"x":241,"y":434},{"x":465,"y":425},{"x":608,"y":431},{"x":174,"y":447},{"x":305,"y":449},{"x":418,"y":445},{"x":1010,"y":434},{"x":1158,"y":431},{"x":1215,"y":423},{"x":1285,"y":436},{"x":1396,"y":422},{"x":571,"y":447},{"x":1065,"y":450},{"x":1117,"y":450},{"x":1352,"y":452},{"x":105,"y":476},{"x":370,"y":477},{"x":1240,"y":477},{"x":1180,"y":477},{"x":441,"y":487},{"x":264,"y":490},{"x":319,"y":497},{"x":213,"y":504},{"x":1075,"y":492},{"x":1130,"y":487},{"x":1308,"y":500},{"x":1370,"y":510},{"x":1434,"y":511},{"x":159,"y":524},{"x":388,"y":520},{"x":1087,"y":535},{"x":1163,"y":530},{"x":1203,"y":533},{"x":105,"y":553},{"x":349,"y":551},{"x":268,"y":556},{"x":218,"y":567},{"x":1330,"y":548},{"x":1389,"y":552},{"x":172,"y":580},{"x":369,"y":590},{"x":1103,"y":574},{"x":1175,"y":584},{"x":1221,"y":593},{"x":1280,"y":590},{"x":1450,"y":578},{"x":326,"y":600},{"x":114,"y":607},{"x":1117,"y":623},{"x":1343,"y":604},{"x":1410,"y":628},{"x":233,"y":622},{"x":275,"y":618},{"x":383,"y":635},{"x":1184,"y":636},{"x":1233,"y":650},{"x":1284,"y":642},{"x":338,"y":642},{"x":1468,"y":648},{"x":56,"y":660},{"x":178,"y":652},{"x":291,"y":656},{"x":1128,"y":667},{"x":1356,"y":665},{"x":398,"y":678},{"x":241,"y":678},{"x":1195,"y":690},{"x":349,"y":693},{"x":124,"y":701},{"x":1138,"y":705},{"x":1250,"y":702},{"x":1305,"y":695},{"x":1418,"y":683},{"x":1370,"y":724},{"x":1478,"y":710},{"x":410,"y":721},{"x":303,"y":730},{"x":190,"y":730},{"x":1235,"y":738},{"x":1430,"y":743},{"x":258,"y":755},{"x":72,"y":753},{"x":365,"y":755},{"x":425,"y":762},{"x":1155,"y":785},{"x":1212,"y":770},{"x":1310,"y":768},{"x":1375,"y":787},{"x":1486,"y":782},{"x":138,"y":782},{"x":315,"y":791},{"x":378,"y":797},{"x":209,"y":802},{"x":1262,"y":808},{"x":437,"y":800},{"x":1167,"y":828},{"x":1213,"y":820},{"x":1428,"y":815},{"x":1482,"y":842},{"x":94,"y":841},{"x":273,"y":825},{"x":395,"y":851},{"x":162,"y":860},{"x":463,"y":884},{"x":228,"y":874},{"x":290,"y":884},{"x":352,"y":892},{"x":1155,"y":870},{"x":1220,"y":867},{"x":1262,"y":868},{"x":1313,"y":856},{"x":1362,"y":862},{"x":118,"y":906},{"x":412,"y":893},{"x":1195,"y":907},{"x":1118,"y":905},{"x":1253,"y":925},{"x":1300,"y":908},{"x":1357,"y":915},{"x":1412,"y":912},{"x":181,"y":919},{"x":250,"y":938},{"x":317,"y":940},{"x":380,"y":950},{"x":431,"y":936},{"x":1075,"y":920},{"x":1143,"y":946},{"x":140,"y":963},{"x":1208,"y":962},{"x":1280,"y":952},{"x":1347,"y":959},{"x":1402,"y":960},{"x":496,"y":965},{"x":540,"y":975},{"x":583,"y":978},{"x":634,"y":982},{"x":680,"y":985},{"x":726,"y":987},{"x":771,"y":988},{"x":817,"y":988},{"x":862,"y":985},{"x":906,"y":973},{"x":950,"y":962},{"x":990,"y":948},{"x":1035,"y":937},{"x":207,"y":990},{"x":269,"y":987},{"x":336,"y":998},{"x":434,"y":993},{"x":1003,"y":1000},{"x":1047,"y":992},{"x":1155,"y":995},{"x":1237,"y":994},{"x":398,"y":1018},{"x":903,"y":1028},{"x":957,"y":1017},{"x":1105,"y":1017},{"x":1302,"y":1012},{"x":1355,"y":1025},{"x":178,"y":1037},{"x":483,"y":1027},{"x":849,"y":1040},{"x":1053,"y":1043},{"x":1177,"y":1033},{"x":600,"y":1045},{"x":655,"y":1049},{"x":711,"y":1058},{"x":766,"y":1054},{"x":803,"y":1050},{"x":1000,"y":1056},{"x":236,"y":1061},{"x":296,"y":1058},{"x":352,"y":1050},{"x":1130,"y":1056},{"x":1258,"y":1052},{"x":442,"y":1068},{"x":880,"y":1090},{"x":940,"y":1078},{"x":1316,"y":1075},{"x":502,"y":1085},{"x":561,"y":1088},{"x":1193,"y":1082},{"x":838,"y":1098},{"x":1064,"y":1096},{"x":627,"y":1102},{"x":683,"y":1108},{"x":741,"y":1115},{"x":792,"y":1103},{"x":398,"y":1106},{"x":1133,"y":1113},{"x":1250,"y":1113},{"x":923,"y":1135},{"x":257,"y":1131},{"x":468,"y":1134},{"x":518,"y":1137},{"x":1072,"y":1150},{"x":1193,"y":1143},{"x":1316,"y":1133},{"x":585,"y":1150},{"x":665,"y":1155},{"x":728,"y":1158},{"x":785,"y":1155},{"x":393,"y":1161},{"x":848,"y":1147},{"x":1135,"y":1173},{"x":1257,"y":1175},{"x":465,"y":1187},{"x":537,"y":1195},{"x":333,"y":1193},{"x":922,"y":1192},{"x":1063,"y":1204},{"x":1190,"y":1202},{"x":607,"y":1205},{"x":678,"y":1208},{"x":757,"y":1214},{"x":830,"y":1209},{"x":397,"y":1222},{"x":967,"y":1233},{"x":1121,"y":1233},{"x":482,"y":1244},{"x":893,"y":1251},{"x":558,"y":1258},{"x":631,"y":1264},{"x":708,"y":1271},{"x":787,"y":1267},{"x":1027,"y":1262},{"x":428,"y":1277},{"x":939,"y":1283},{"x":514,"y":1298},{"x":853,"y":1304},{"x":598,"y":1314},{"x":673,"y":1320},{"x":755,"y":1320}],
"tank":[{"x":423,"y":535},{"x":430,"y":563},{"x":437,"y":591},{"x":445,"y":620},{"x":452,"y":542},{"x":461,"y":572},{"x":468,"y":600},{"x":476,"y":630},{"x":503,"y":498},{"x":512,"y":527},{"x":519,"y":555},{"x":527,"y":585},{"x":536,"y":612},{"x":543,"y":640},{"x":483,"y":518},{"x":497,"y":548},{"x":500,"y":577},{"x":508,"y":605},{"x":514,"y":632},{"x":565,"y":483},{"x":574,"y":510},{"x":580,"y":535},{"x":589,"y":563},{"x":597,"y":595},{"x":606,"y":622},{"x":615,"y":650},{"x":543,"y":502},{"x":552,"y":530},{"x":560,"y":558},{"x":567,"y":590},{"x":578,"y":617},{"x":587,"y":645},{"x":626,"y":463},{"x":634,"y":492},{"x":640,"y":518},{"x":650,"y":545},{"x":657,"y":575},{"x":665,"y":605},{"x":674,"y":632},{"x":684,"y":662},{"x":604,"y":487},{"x":612,"y":515},{"x":621,"y":543},{"x":630,"y":570},{"x":638,"y":598},{"x":646,"y":628},{"x":655,"y":658},{"x":687,"y":447},{"x":695,"y":475},{"x":703,"y":497},{"x":712,"y":525},{"x":720,"y":555},{"x":728,"y":585},{"x":737,"y":615},{"x":745,"y":645},{"x":667,"y":467},{"x":678,"y":495},{"x":684,"y":522},{"x":692,"y":552},{"x":700,"y":582},{"x":708,"y":610},{"x":715,"y":638},{"x":722,"y":665},{"x":750,"y":433},{"x":757,"y":463},{"x":765,"y":490},{"x":773,"y":518},{"x":780,"y":548},{"x":790,"y":578},{"x":797,"y":605},{"x":806,"y":632},{"x":815,"y":660},{"x":727,"y":455},{"x":737,"y":483},{"x":745,"y":512},{"x":752,"y":540},{"x":760,"y":568},{"x":768,"y":598},{"x":775,"y":625},{"x":783,"y":652},{"x":793,"y":682},{"x":815,"y":433},{"x":822,"y":462},{"x":830,"y":490},{"x":838,"y":518},{"x":848,"y":547},{"x":856,"y":575},{"x":865,"y":602},{"x":873,"y":628},{"x":793,"y":455},{"x":802,"y":483},{"x":810,"y":510},{"x":818,"y":540},{"x":828,"y":568},{"x":836,"y":595},{"x":843,"y":625},{"x":850,"y":655},{"x":883,"y":445},{"x":890,"y":472},{"x":898,"y":500},{"x":905,"y":527},{"x":913,"y":555},{"x":921,"y":583},{"x":862,"y":465},{"x":870,"y":492},{"x":878,"y":520},{"x":886,"y":548},{"x":895,"y":578},{"x":903,"y":605},{"x":881,"y":668},{"x":893,"y":695},{"x":858,"y":688},{"x":953,"y":455},{"x":963,"y":485},{"x":970,"y":512},{"x":978,"y":538},{"x":932,"y":477},{"x":941,"y":505},{"x":950,"y":532},{"x":957,"y":560},{"x":935,"y":618},{"x":915,"y":642},{"x":945,"y":650},{"x":922,"y":672},{"x":952,"y":680},{"x":932,"y":702},{"x":960,"y":708},{"x":988,"y":575},{"x":965,"y":597},{"x":975,"y":628},{"x":983,"y":655},{"x":992,"y":683},{"x":998,"y":710},{"x":993,"y":605},{"x":1003,"y":632},{"x":1010,"y":660},{"x":1020,"y":688},{"x":1030,"y":715},{"x":1000,"y":490},{"x":1032,"y":495},{"x":1010,"y":518},{"x":1042,"y":530},{"x":1020,"y":548},{"x":1050,"y":558},{"x":1030,"y":578},{"x":1058,"y":587},{"x":1035,"y":605},{"x":1065,"y":615},{"x":1045,"y":635},{"x":1073,"y":645},{"x":1052,"y":662},{"x":1082,"y":672},{"x":1060,"y":692},{"x":1090,"y":700},{"x":1068,"y":722},{"x":1100,"y":730},{"x":462,"y":670},{"x":490,"y":677},{"x":470,"y":698},{"x":498,"y":705},{"x":478,"y":725},{"x":506,"y":735},{"x":485,"y":755},{"x":515,"y":762},{"x":493,"y":782},{"x":522,"y":790},{"x":500,"y":810},{"x":530,"y":820},{"x":508,"y":838},{"x":535,"y":846},{"x":515,"y":868},{"x":545,"y":875},{"x":523,"y":898},{"x":553,"y":905},{"x":533,"y":928},{"x":562,"y":933},{"x":530,"y":684},{"x":560,"y":687},{"x":537,"y":712},{"x":566,"y":716},{"x":545,"y":740},{"x":575,"y":745},{"x":552,"y":768},{"x":582,"y":775},{"x":560,"y":795},{"x":590,"y":803},{"x":568,"y":823},{"x":597,"y":830},{"x":575,"y":852},{"x":605,"y":860},{"x":585,"y":880},{"x":613,"y":887},{"x":592,"y":908},{"x":625,"y":922},{"x":605,"y":943},{"x":598,"y":692},{"x":627,"y":697},{"x":605,"y":720},{"x":633,"y":725},{"x":612,"y":748},{"x":642,"y":752},{"x":620,"y":776},{"x":650,"y":782},{"x":628,"y":803},{"x":658,"y":810},{"x":635,"y":832},{"x":665,"y":838},{"x":645,"y":862},{"x":668,"y":704},{"x":697,"y":709},{"x":676,"y":732},{"x":704,"y":737},{"x":683,"y":760},{"x":712,"y":765},{"x":692,"y":788},{"x":720,"y":795},{"x":737,"y":714},{"x":767,"y":722},{"x":745,"y":742},{"x":772,"y":752},{"x":752,"y":770},{"x":785,"y":785},{"x":762,"y":805},{"x":792,"y":810},{"x":770,"y":833},{"x":800,"y":840},{"x":778,"y":860},{"x":808,"y":868},{"x":785,"y":888},{"x":816,"y":897},{"x":795,"y":915},{"x":824,"y":925},{"x":805,"y":950},{"x":730,"y":830},{"x":712,"y":852},{"x":740,"y":860},{"x":720,"y":880},{"x":748,"y":888},{"x":728,"y":910},{"x":757,"y":916},{"x":735,"y":938},{"x":763,"y":945},{"x":680,"y":876},{"x":658,"y":897},{"x":688,"y":905},{"x":665,"y":925},{"x":696,"y":933},{"x":830,"y":815},{"x":860,"y":820},{"x":840,"y":843},{"x":868,"y":848},{"x":848,"y":870},{"x":876,"y":877},{"x":858,"y":898},{"x":885,"y":905},{"x":865,"y":930},{"x":895,"y":938},{"x":878,"y":744},{"x":907,"y":750},{"x":886,"y":772},{"x":913,"y":780},{"x":895,"y":800},{"x":922,"y":808},{"x":903,"y":828},{"x":932,"y":835},{"x":910,"y":855},{"x":940,"y":862},{"x":918,"y":885},{"x":948,"y":890},{"x":926,"y":913},{"x":955,"y":922},{"x":948,"y":755},{"x":976,"y":760},{"x":955,"y":782},{"x":985,"y":788},{"x":965,"y":810},{"x":992,"y":818},{"x":970,"y":838},{"x":1000,"y":845},{"x":978,"y":868},{"x":1008,"y":873},{"x":985,"y":897},{"x":1016,"y":905},{"x":1013,"y":767},{"x":1045,"y":773},{"x":1022,"y":795},{"x":1050,"y":802},{"x":1030,"y":822},{"x":1058,"y":830},{"x":1037,"y":850},{"x":1068,"y":858},{"x":1047,"y":880},{"x":1076,"y":887},{"x":1085,"y":775},{"x":1114,"y":785},{"x":1093,"y":805},{"x":1122,"y":813},{"x":1102,"y":835}],
"redl":[{"p":"r1","o":1,"x":342,"y":173},{"p":"r1","o":2,"x":375,"y":215},{"p":"r1","o":3,"x":400,"y":250},{"p":"r1","o":4,"x":412,"y":290},{"p":"r1","o":5,"x":450,"y":320},{"p":"r1","o":6,"x":488,"y":375},{"p":"r1","o":7,"x":505,"y":465},{"p":"r2","o":1,"x":1140,"y":145},{"p":"r2","o":2,"x":1122,"y":190},{"p":"r2","o":3,"x":1120,"y":258},{"p":"r2","o":4,"x":1045,"y":290},{"p":"r2","o":5,"x":1000,"y":345},{"p":"r2","o":6,"x":950,"y":385},{"p":"r2","o":7,"x":943,"y":425},{"p":"r3","o":1,"x":1147,"y":765},{"p":"r3","o":2,"x":1205,"y":745},{"p":"r3","o":3,"x":1240,"y":770},{"p":"r3","o":4,"x":1300,"y":800},{"p":"r3","o":5,"x":1480,"y":877},{"p":"r4","o":1,"x":792,"y":990},{"p":"r4","o":2,"x":783,"y":1060},{"p":"r4","o":3,"x":815,"y":1100},{"p":"r4","o":4,"x":840,"y":1180},{"p":"r4","o":5,"x":885,"y":1305},{"p":"r5","o":1,"x":150,"y":1003},{"p":"r5","o":2,"x":215,"y":945},{"p":"r5","o":3,"x":280,"y":870},{"p":"r5","o":4,"x":345,"y":860},{"p":"r5","o":5,"x":390,"y":825},{"p":"r5","o":6,"x":450,"y":820}],
"redd":[{"x":750,"y":284},{"x":310,"y":551},{"x":1258,"y":537},{"x":1094,"y":968},{"x":540,"y":1040}],
"heat":[{"c":0,"r":0,"v":0.7},{"c":1,"r":0,"v":0.9},{"c":2,"r":0,"v":1.2},{"c":3,"r":0,"v":0.9},{"c":4,"r":0,"v":0.3},{"c":5,"r":0,"v":0.5},{"c":6,"r":0,"v":0.9},{"c":7,"r":0,"v":1.6},{"c":8,"r":0,"v":0.6},{"c":9,"r":0,"v":0.8},{"c":10,"r":0,"v":1.3},{"c":11,"r":0,"v":0.6},{"c":12,"r":0,"v":0.5},{"c":13,"r":0,"v":0.6},{"c":14,"r":0,"v":0.5},{"c":15,"r":0,"v":0.8},{"c":16,"r":0,"v":0.4},{"c":17,"r":0,"v":0.7},{"c":18,"r":0,"v":0.9},{"c":19,"r":0,"v":0.5},{"c":20,"r":0,"v":0.3},{"c":21,"r":0,"v":0.7},{"c":22,"r":0,"v":0.5},{"c":23,"r":0,"v":0.3},{"c":24,"r":0,"v":0.6},{"c":25,"r":0,"v":1.2},{"c":26,"r":0,"v":0.4},{"c":27,"r":0,"v":0.7},{"c":28,"r":0,"v":0.5},{"c":29,"r":0,"v":0.6},
{"c":0,"r":1,"v":0.3},{"c":1,"r":1,"v":0.7},{"c":2,"r":1,"v":0.5},{"c":3,"r":1,"v":0.9},{"c":4,"r":1,"v":0.7},{"c":5,"r":1,"v":0.8},{"c":6,"r":1,"v":0.9},{"c":7,"r":1,"v":0.6},{"c":8,"r":1,"v":0.3},{"c":9,"r":1,"v":0.7},{"c":10,"r":1,"v":0.3},{"c":11,"r":1,"v":1.0},{"c":12,"r":1,"v":0.5},{"c":13,"r":1,"v":0.4},{"c":14,"r":1,"v":0.6},{"c":15,"r":1,"v":0.25},{"c":16,"r":1,"v":0.25},{"c":17,"r":1,"v":0.3},{"c":18,"r":1,"v":0.8},{"c":19,"r":1,"v":0.6},{"c":20,"r":1,"v":0.7},{"c":21,"r":1,"v":0.2},{"c":22,"r":1,"v":0.8},{"c":23,"r":1,"v":0.9},{"c":24,"r":1,"v":0.3},{"c":25,"r":1,"v":0.7},{"c":26,"r":1,"v":1.0},{"c":27,"r":1,"v":0.3},{"c":28,"r":1,"v":0.3},
{"c":0,"r":2,"v":0.5},{"c":1,"r":2,"v":0.8},{"c":2,"r":2,"v":0.4},{"c":3,"r":2,"v":0.8},{"c":4,"r":2,"v":0.7},{"c":5,"r":2,"v":0.3},{"c":6,"r":2,"v":0.7},{"c":7,"r":2,"v":1.3},{"c":8,"r":2,"v":0.6},{"c":9,"r":2,"v":1.4},{"c":10,"r":2,"v":0.9},{"c":11,"r":2,"v":0.5},{"c":12,"r":2,"v":0.6},{"c":13,"r":2,"v":0.5},{"c":14,"r":2,"v":0.7},{"c":15,"r":2,"v":0.6},{"c":16,"r":2,"v":0.5},{"c":17,"r":2,"v":0.4},{"c":18,"r":2,"v":0.3},{"c":19,"r":2,"v":0.7},{"c":20,"r":2,"v":0.3},{"c":21,"r":2,"v":0.25},{"c":22,"r":2,"v":0.9},{"c":24,"r":2,"v":0.3},{"c":25,"r":2,"v":0.25},{"c":26,"r":2,"v":0.6},{"c":27,"r":2,"v":0.3},{"c":28,"r":2,"v":0.4},
{"c":0,"r":3,"v":0.6},{"c":1,"r":3,"v":0.6},{"c":2,"r":3,"v":0.7},{"c":3,"r":3,"v":1.3},{"c":4,"r":3,"v":0.8},{"c":5,"r":3,"v":0.9},{"c":6,"r":3,"v":0.5},{"c":7,"r":3,"v":0.6},{"c":8,"r":3,"v":0.5},{"c":9,"r":3,"v":0.7},{"c":10,"r":3,"v":0.4},{"c":11,"r":3,"v":1.1},{"c":12,"r":3,"v":0.9},{"c":13,"r":3,"v":0.5},{"c":14,"r":3,"v":0.7},{"c":15,"r":3,"v":0.7},{"c":16,"r":3,"v":0.2},{"c":17,"r":3,"v":0.2},{"c":18,"r":3,"v":0.5},{"c":21,"r":3,"v":0.6},{"c":22,"r":3,"v":0.7},{"c":23,"r":3,"v":0.9},{"c":24,"r":3,"v":0.5},{"c":25,"r":3,"v":0.9},{"c":26,"r":3,"v":0.5},{"c":27,"r":3,"v":0.5},
{"c":0,"r":4,"v":0.7},{"c":1,"r":4,"v":1.3},{"c":2,"r":4,"v":1.2},{"c":3,"r":4,"v":0.4},{"c":4,"r":4,"v":0.9},{"c":5,"r":4,"v":0.5},{"c":6,"r":4,"v":0.7},{"c":7,"r":4,"v":0.5},{"c":8,"r":4,"v":0.8},{"c":9,"r":4,"v":0.6},{"c":10,"r":4,"v":0.7},{"c":11,"r":4,"v":0.9},{"c":12,"r":4,"v":0.5},{"c":13,"r":4,"v":0.7},{"c":14,"r":4,"v":0.8},{"c":15,"r":4,"v":0.6},{"c":16,"r":4,"v":0.7},{"c":17,"r":4,"v":0.5},{"c":18,"r":4,"v":0.7},{"c":19,"r":4,"v":0.9},{"c":20,"r":4,"v":0.6},{"c":21,"r":4,"v":0.8},{"c":23,"r":4,"v":0.6},{"c":26,"r":4,"v":0.9},{"c":27,"r":4,"v":0.3},{"c":29,"r":4,"v":1.1},
{"c":0,"r":5,"v":0.4},{"c":1,"r":5,"v":0.8},{"c":2,"r":5,"v":0.9},{"c":3,"r":5,"v":0.8},{"c":4,"r":5,"v":0.6},{"c":5,"r":5,"v":1.0},{"c":6,"r":5,"v":0.5},{"c":7,"r":5,"v":0.7},{"c":8,"r":5,"v":0.9},{"c":9,"r":5,"v":0.7},{"c":10,"r":5,"v":0.5},{"c":11,"r":5,"v":0.7},{"c":12,"r":5,"v":0.4},{"c":13,"r":5,"v":0.8},{"c":16,"r":5,"v":0.5},{"c":17,"r":5,"v":0.7},{"c":18,"r":5,"v":0.5},{"c":19,"r":5,"v":0.8},{"c":20,"r":5,"v":0.6},{"c":21,"r":5,"v":0.5},{"c":22,"r":5,"v":0.7},{"c":23,"r":5,"v":0.6},{"c":24,"r":5,"v":0.3},{"c":25,"r":5,"v":0.2},{"c":26,"r":5,"v":0.9},{"c":27,"r":5,"v":0.3},
{"c":0,"r":6,"v":1.1},{"c":1,"r":6,"v":0.5},{"c":2,"r":6,"v":0.7},{"c":3,"r":6,"v":0.5},{"c":4,"r":6,"v":0.9},{"c":5,"r":6,"v":1.2},{"c":6,"r":6,"v":0.7},{"c":7,"r":6,"v":0.8},{"c":8,"r":6,"v":0.5},{"c":9,"r":6,"v":0.7},{"c":10,"r":6,"v":0.6},{"c":11,"r":6,"v":1.3},{"c":12,"r":6,"v":0.7},{"c":13,"r":6,"v":0.6},{"c":14,"r":6,"v":1.0},{"c":15,"r":6,"v":0.7},{"c":16,"r":6,"v":0.3},{"c":17,"r":6,"v":0.7},{"c":18,"r":6,"v":0.6},{"c":19,"r":6,"v":0.8},{"c":20,"r":6,"v":0.5},{"c":21,"r":6,"v":0.7},{"c":23,"r":6,"v":0.5},{"c":24,"r":6,"v":0.3},{"c":25,"r":6,"v":0.2},{"c":26,"r":6,"v":0.5},{"c":27,"r":6,"v":0.2},
{"c":0,"r":7,"v":1.2},{"c":1,"r":7,"v":0.9},{"c":2,"r":7,"v":0.6},{"c":3,"r":7,"v":0.8},{"c":4,"r":7,"v":0.6},{"c":5,"r":7,"v":0.9},{"c":6,"r":7,"v":0.5},{"c":7,"r":7,"v":0.7},{"c":8,"r":7,"v":1.1},{"c":9,"r":7,"v":0.8},{"c":10,"r":7,"v":0.6},{"c":11,"r":7,"v":0.9},{"c":12,"r":7,"v":1.1},{"c":13,"r":7,"v":0.7},{"c":14,"r":7,"v":0.6},{"c":15,"r":7,"v":0.8},{"c":16,"r":7,"v":0.4},{"c":17,"r":7,"v":0.7},{"c":18,"r":7,"v":0.8},{"c":19,"r":7,"v":0.9},{"c":20,"r":7,"v":0.7},{"c":23,"r":7,"v":0.7},{"c":24,"r":7,"v":0.4},{"c":25,"r":7,"v":0.3},{"c":26,"r":7,"v":0.6},{"c":27,"r":7,"v":0.25},
{"c":0,"r":8,"v":1.2},{"c":1,"r":8,"v":1.0},{"c":2,"r":8,"v":0.7},{"c":3,"r":8,"v":0.9},{"c":4,"r":8,"v":0.7},{"c":5,"r":8,"v":0.6},{"c":6,"r":8,"v":0.8},{"c":7,"r":8,"v":0.5},{"c":8,"r":8,"v":1.2},{"c":9,"r":8,"v":0.7},{"c":10,"r":8,"v":0.9},{"c":11,"r":8,"v":0.6},{"c":12,"r":8,"v":0.8},{"c":13,"r":8,"v":0.7},{"c":14,"r":8,"v":0.5},{"c":15,"r":8,"v":0.8},{"c":16,"r":8,"v":0.6},{"c":17,"r":8,"v":0.3},{"c":24,"r":8,"v":0.6},{"c":25,"r":8,"v":0.3},{"c":27,"r":8,"v":0.3},{"c":28,"r":8,"v":0.5},
{"c":0,"r":9,"v":0.2},{"c":1,"r":9,"v":1.0},{"c":2,"r":9,"v":0.7},{"c":3,"r":9,"v":0.9},{"c":4,"r":9,"v":0.6},{"c":5,"r":9,"v":0.7},{"c":6,"r":9,"v":0.2},{"c":7,"r":9,"v":0.9},{"c":9,"r":9,"v":0.4},{"c":10,"r":9,"v":0.5},{"c":11,"r":9,"v":0.3},{"c":12,"r":9,"v":0.5},{"c":13,"r":9,"v":0.4},{"c":14,"r":9,"v":0.7},{"c":15,"r":9,"v":0.5},{"c":16,"r":9,"v":0.7},{"c":17,"r":9,"v":0.5},{"c":18,"r":9,"v":0.9},{"c":19,"r":9,"v":0.2},{"c":20,"r":9,"v":0.2},{"c":21,"r":9,"v":0.3},{"c":22,"r":9,"v":0.6},{"c":23,"r":9,"v":0.7},{"c":24,"r":9,"v":0.7},{"c":25,"r":9,"v":0.5},{"c":26,"r":9,"v":0.2},{"c":27,"r":9,"v":0.2},{"c":28,"r":9,"v":0.7},
{"c":0,"r":10,"v":0.8},{"c":1,"r":10,"v":1.2},{"c":2,"r":10,"v":0.5},{"c":3,"r":10,"v":1.1},{"c":4,"r":10,"v":0.8},{"c":5,"r":10,"v":0.7},{"c":6,"r":10,"v":0.9},{"c":7,"r":10,"v":0.7},{"c":8,"r":10,"v":0.5},{"c":9,"r":10,"v":0.8},{"c":10,"r":10,"v":0.4},{"c":11,"r":10,"v":0.9},{"c":12,"r":10,"v":0.3},{"c":13,"r":10,"v":0.7},{"c":14,"r":10,"v":0.3},{"c":15,"r":10,"v":0.4},{"c":16,"r":10,"v":0.5},{"c":17,"r":10,"v":0.7},{"c":18,"r":10,"v":0.3},{"c":19,"r":10,"v":0.6},{"c":20,"r":10,"v":0.8},{"c":21,"r":10,"v":0.5},{"c":22,"r":10,"v":0.7},{"c":23,"r":10,"v":0.6},{"c":24,"r":10,"v":0.2},{"c":25,"r":10,"v":0.4},{"c":26,"r":10,"v":0.6},{"c":27,"r":10,"v":0.5},{"c":28,"r":10,"v":0.3},{"c":29,"r":10,"v":0.4},
{"c":0,"r":11,"v":0.7},{"c":1,"r":11,"v":0.9},{"c":2,"r":11,"v":1.0},{"c":3,"r":11,"v":0.7},{"c":4,"r":11,"v":0.8},{"c":5,"r":11,"v":0.6},{"c":6,"r":11,"v":0.3},{"c":7,"r":11,"v":1.1},{"c":8,"r":11,"v":0.7},{"c":9,"r":11,"v":0.9},{"c":10,"r":11,"v":0.6},{"c":11,"r":11,"v":0.7},{"c":12,"r":11,"v":0.5},{"c":13,"r":11,"v":0.8},{"c":14,"r":11,"v":0.6},{"c":15,"r":11,"v":0.2},{"c":16,"r":11,"v":0.6},{"c":17,"r":11,"v":0.5},{"c":18,"r":11,"v":0.3},{"c":19,"r":11,"v":0.7},{"c":20,"r":11,"v":0.5},{"c":21,"r":11,"v":0.4},{"c":22,"r":11,"v":0.8},{"c":23,"r":11,"v":0.5},{"c":24,"r":11,"v":0.7},{"c":26,"r":11,"v":0.4},{"c":27,"r":11,"v":0.6},{"c":28,"r":11,"v":0.3},{"c":29,"r":11,"v":0.3},
{"c":0,"r":12,"v":0.2},{"c":1,"r":12,"v":1.2},{"c":2,"r":12,"v":1.3},{"c":3,"r":12,"v":1.1},{"c":4,"r":12,"v":0.8},{"c":5,"r":12,"v":0.6},{"c":6,"r":12,"v":0.8},{"c":7,"r":12,"v":0.9},{"c":8,"r":12,"v":0.7},{"c":9,"r":12,"v":0.8},{"c":10,"r":12,"v":0.7},{"c":11,"r":12,"v":0.9},{"c":12,"r":12,"v":0.3},{"c":13,"r":12,"v":0.8},{"c":14,"r":12,"v":1.0},{"c":15,"r":12,"v":0.7},{"c":16,"r":12,"v":0.5},{"c":17,"r":12,"v":0.8},{"c":19,"r":12,"v":0.6},{"c":20,"r":12,"v":0.7},{"c":21,"r":12,"v":0.5},{"c":22,"r":12,"v":0.3},{"c":23,"r":12,"v":0.7},{"c":24,"r":12,"v":0.3},{"c":25,"r":12,"v":0.6},{"c":26,"r":12,"v":0.4},{"c":27,"r":12,"v":0.6},{"c":28,"r":12,"v":0.7},{"c":29,"r":12,"v":0.5},
{"c":0,"r":13,"v":0.8},{"c":1,"r":13,"v":1.3},{"c":2,"r":13,"v":1.2},{"c":3,"r":13,"v":0.9},{"c":4,"r":13,"v":0.7},{"c":5,"r":13,"v":0.5},{"c":6,"r":13,"v":0.6},{"c":7,"r":13,"v":0.5},{"c":8,"r":13,"v":0.8},{"c":9,"r":13,"v":0.7},{"c":10,"r":13,"v":0.6},{"c":11,"r":13,"v":2.45},{"c":12,"r":13,"v":1.2},{"c":13,"r":13,"v":0.5},{"c":14,"r":13,"v":0.6},{"c":15,"r":13,"v":0.8},{"c":16,"r":13,"v":0.6},{"c":17,"r":13,"v":0.2},{"c":18,"r":13,"v":0.7},{"c":20,"r":13,"v":0.6},{"c":21,"r":13,"v":0.2},{"c":22,"r":13,"v":0.5},{"c":23,"r":13,"v":0.6},{"c":24,"r":13,"v":0.2},{"c":25,"r":13,"v":0.5},{"c":26,"r":13,"v":0.6},{"c":27,"r":13,"v":0.5},{"c":28,"r":13,"v":0.3},{"c":29,"r":13,"v":0.6},
{"c":0,"r":14,"v":0.7},{"c":1,"r":14,"v":1.35},{"c":2,"r":14,"v":1.1},{"c":3,"r":14,"v":0.9},{"c":4,"r":14,"v":1.65},{"c":5,"r":14,"v":0.9},{"c":6,"r":14,"v":0.8},{"c":7,"r":14,"v":0.7},{"c":8,"r":14,"v":0.9},{"c":9,"r":14,"v":1.1},{"c":10,"r":14,"v":0.8},{"c":11,"r":14,"v":0.5},{"c":12,"r":14,"v":0.7},{"c":13,"r":14,"v":0.6},{"c":14,"r":14,"v":0.8},{"c":16,"r":14,"v":0.7},{"c":17,"r":14,"v":0.6},{"c":18,"r":14,"v":0.5},{"c":19,"r":14,"v":0.4},{"c":20,"r":14,"v":0.5},{"c":21,"r":14,"v":0.7},{"c":22,"r":14,"v":0.5},{"c":23,"r":14,"v":0.4},{"c":24,"r":14,"v":0.6},{"c":25,"r":14,"v":1.0},{"c":26,"r":14,"v":0.7},{"c":27,"r":14,"v":0.2},{"c":28,"r":14,"v":0.5},{"c":29,"r":14,"v":0.3},
{"c":0,"r":15,"v":0.9},{"c":1,"r":15,"v":1.3},{"c":2,"r":15,"v":1.15},{"c":3,"r":15,"v":1.0},{"c":4,"r":15,"v":0.6},{"c":5,"r":15,"v":1.6},{"c":6,"r":15,"v":0.9},{"c":7,"r":15,"v":1.55},{"c":8,"r":15,"v":0.9},{"c":9,"r":15,"v":0.8},{"c":10,"r":15,"v":0.9},{"c":11,"r":15,"v":0.7},{"c":12,"r":15,"v":0.6},{"c":13,"r":15,"v":0.8},{"c":14,"r":15,"v":0.6},{"c":16,"r":15,"v":0.5},{"c":17,"r":15,"v":0.8},{"c":18,"r":15,"v":0.5},{"c":19,"r":15,"v":0.3},{"c":20,"r":15,"v":0.4},{"c":22,"r":15,"v":0.6},{"c":23,"r":15,"v":0.5},{"c":24,"r":15,"v":1.35},{"c":25,"r":15,"v":0.5},{"c":26,"r":15,"v":0.7},{"c":27,"r":15,"v":0.5},{"c":28,"r":15,"v":0.3},{"c":29,"r":15,"v":0.6},
{"c":0,"r":16,"v":0.3},{"c":1,"r":16,"v":1.25},{"c":2,"r":16,"v":1.15},{"c":3,"r":16,"v":2.05},{"c":4,"r":16,"v":1.5},{"c":5,"r":16,"v":0.8},{"c":6,"r":16,"v":0.9},{"c":7,"r":16,"v":0.7},{"c":8,"r":16,"v":1.0},{"c":9,"r":16,"v":0.9},{"c":10,"r":16,"v":1.2},{"c":11,"r":16,"v":1.2},{"c":12,"r":16,"v":0.6},{"c":13,"r":16,"v":0.5},{"c":14,"r":16,"v":0.7},{"c":15,"r":16,"v":0.6},{"c":16,"r":16,"v":0.5},{"c":17,"r":16,"v":0.6},{"c":18,"r":16,"v":1.3},{"c":19,"r":16,"v":0.4},{"c":20,"r":16,"v":0.7},{"c":22,"r":16,"v":0.5},{"c":24,"r":16,"v":0.6},{"c":25,"r":16,"v":0.4},{"c":26,"r":16,"v":0.7},{"c":27,"r":16,"v":0.6},{"c":28,"r":16,"v":0.2},{"c":29,"r":16,"v":0.3},
{"c":0,"r":17,"v":0.9},{"c":1,"r":17,"v":1.2},{"c":2,"r":17,"v":1.3},{"c":3,"r":17,"v":1.1},{"c":4,"r":17,"v":0.9},{"c":5,"r":17,"v":1.0},{"c":6,"r":17,"v":0.8},{"c":7,"r":17,"v":0.9},{"c":8,"r":17,"v":1.3},{"c":9,"r":17,"v":1.0},{"c":10,"r":17,"v":1.05},{"c":11,"r":17,"v":1.0},{"c":12,"r":17,"v":0.6},{"c":13,"r":17,"v":0.5},{"c":14,"r":17,"v":0.7},{"c":15,"r":17,"v":0.6},{"c":16,"r":17,"v":0.7},{"c":17,"r":17,"v":0.5},{"c":18,"r":17,"v":0.8},{"c":19,"r":17,"v":0.3},{"c":20,"r":17,"v":0.6},{"c":22,"r":17,"v":0.7},{"c":23,"r":17,"v":1.2},{"c":24,"r":17,"v":0.5},{"c":25,"r":17,"v":0.6},{"c":26,"r":17,"v":0.7},{"c":27,"r":17,"v":0.2},{"c":28,"r":17,"v":0.5},{"c":29,"r":17,"v":0.2},
{"c":0,"r":18,"v":1.0},{"c":1,"r":18,"v":1.35},{"c":2,"r":18,"v":1.2},{"c":3,"r":18,"v":1.35},{"c":4,"r":18,"v":1.3},{"c":5,"r":18,"v":1.3},{"c":6,"r":18,"v":0.9},{"c":7,"r":18,"v":0.7},{"c":8,"r":18,"v":1.2},{"c":9,"r":18,"v":1.3},{"c":10,"r":18,"v":0.9},{"c":11,"r":18,"v":0.6},{"c":12,"r":18,"v":0.7},{"c":13,"r":18,"v":0.5},{"c":14,"r":18,"v":0.6},{"c":15,"r":18,"v":0.5},{"c":16,"r":18,"v":0.6},{"c":17,"r":18,"v":0.8},{"c":18,"r":18,"v":0.2},{"c":19,"r":18,"v":0.5},{"c":20,"r":18,"v":0.7},{"c":21,"r":18,"v":0.5},{"c":22,"r":18,"v":0.8},{"c":23,"r":18,"v":0.6},{"c":24,"r":18,"v":0.3},{"c":25,"r":18,"v":0.8},{"c":26,"r":18,"v":0.5},{"c":27,"r":18,"v":0.4},{"c":28,"r":18,"v":0.6},{"c":29,"r":18,"v":0.5},
{"c":0,"r":19,"v":0.7},{"c":1,"r":19,"v":1.3},{"c":2,"r":19,"v":1.0},{"c":3,"r":19,"v":1.1},{"c":4,"r":19,"v":1.35},{"c":5,"r":19,"v":1.35},{"c":6,"r":19,"v":1.3},{"c":7,"r":19,"v":0.8},{"c":8,"r":19,"v":0.7},{"c":9,"r":19,"v":0.9},{"c":10,"r":19,"v":0.8},{"c":11,"r":19,"v":0.6},{"c":12,"r":19,"v":0.5},{"c":13,"r":19,"v":0.7},{"c":14,"r":19,"v":0.6},{"c":15,"r":19,"v":0.5},{"c":16,"r":19,"v":0.7},{"c":17,"r":19,"v":1.0},{"c":18,"r":19,"v":0.6},{"c":19,"r":19,"v":1.0},{"c":20,"r":19,"v":0.3},{"c":21,"r":19,"v":0.4},{"c":22,"r":19,"v":0.5},{"c":23,"r":19,"v":0.3},{"c":24,"r":19,"v":0.2},{"c":25,"r":19,"v":0.5},{"c":26,"r":19,"v":0.6},{"c":27,"r":19,"v":0.3},{"c":28,"r":19,"v":0.5},{"c":29,"r":19,"v":0.6},
{"c":0,"r":20,"v":0.9},{"c":1,"r":20,"v":1.2},{"c":2,"r":20,"v":1.3},{"c":3,"r":20,"v":1.25},{"c":4,"r":20,"v":1.4},{"c":5,"r":20,"v":1.4},{"c":6,"r":20,"v":1.25},{"c":7,"r":20,"v":1.5},{"c":8,"r":20,"v":0.7},{"c":9,"r":20,"v":0.8},{"c":10,"r":20,"v":0.7},{"c":11,"r":20,"v":0.6},{"c":12,"r":20,"v":0.7},{"c":13,"r":20,"v":0.15},{"c":14,"r":20,"v":0.5},{"c":15,"r":20,"v":0.7},{"c":16,"r":20,"v":0.5},{"c":17,"r":20,"v":0.8},{"c":18,"r":20,"v":0.5},{"c":19,"r":20,"v":0.7},{"c":20,"r":20,"v":0.6},{"c":21,"r":20,"v":0.4},{"c":22,"r":20,"v":0.3},{"c":23,"r":20,"v":0.6},{"c":24,"r":20,"v":0.4},{"c":25,"r":20,"v":0.6},{"c":26,"r":20,"v":0.3},{"c":27,"r":20,"v":0.2},{"c":28,"r":20,"v":0.9},{"c":29,"r":20,"v":0.3},
{"c":0,"r":21,"v":1.0},{"c":1,"r":21,"v":1.3},{"c":2,"r":21,"v":1.2},{"c":3,"r":21,"v":1.3},{"c":4,"r":21,"v":1.2},{"c":5,"r":21,"v":1.1},{"c":6,"r":21,"v":1.25},{"c":7,"r":21,"v":1.0},{"c":8,"r":21,"v":0.3},{"c":9,"r":21,"v":1.25},{"c":10,"r":21,"v":0.7},{"c":11,"r":21,"v":0.2},{"c":12,"r":21,"v":0.7},{"c":13,"r":21,"v":0.6},{"c":14,"r":21,"v":0.3},{"c":15,"r":21,"v":0.5},{"c":16,"r":21,"v":0.7},{"c":17,"r":21,"v":0.5},{"c":18,"r":21,"v":0.6},{"c":19,"r":21,"v":0.4},{"c":20,"r":21,"v":0.7},{"c":21,"r":21,"v":0.5},{"c":22,"r":21,"v":0.2},{"c":23,"r":21,"v":0.5},{"c":24,"r":21,"v":0.7},{"c":25,"r":21,"v":0.5},{"c":26,"r":21,"v":1.1},{"c":27,"r":21,"v":0.6},{"c":28,"r":21,"v":0.4},{"c":29,"r":21,"v":0.6},
{"c":0,"r":22,"v":1.1},{"c":1,"r":22,"v":1.35},{"c":2,"r":22,"v":1.35},{"c":3,"r":22,"v":1.4},{"c":4,"r":22,"v":1.1},{"c":5,"r":22,"v":1.0},{"c":6,"r":22,"v":0.8},{"c":7,"r":22,"v":0.9},{"c":8,"r":22,"v":0.7},{"c":9,"r":22,"v":0.8},{"c":10,"r":22,"v":0.9},{"c":11,"r":22,"v":0.7},{"c":12,"r":22,"v":0.8},{"c":13,"r":22,"v":0.6},{"c":14,"r":22,"v":0.4},{"c":15,"r":22,"v":0.3},{"c":16,"r":22,"v":0.5},{"c":17,"r":22,"v":0.7},{"c":18,"r":22,"v":0.3},{"c":19,"r":22,"v":0.6},{"c":20,"r":22,"v":0.7},{"c":21,"r":22,"v":0.5},{"c":22,"r":22,"v":0.6},{"c":23,"r":22,"v":0.4},{"c":24,"r":22,"v":0.3},{"c":25,"r":22,"v":0.6},{"c":26,"r":22,"v":0.7},{"c":27,"r":22,"v":1.0},{"c":28,"r":22,"v":0.3},{"c":29,"r":22,"v":0.5},
{"c":0,"r":23,"v":0.9},{"c":1,"r":23,"v":1.2},{"c":2,"r":23,"v":1.1},{"c":3,"r":23,"v":1.3},{"c":4,"r":23,"v":1.0},{"c":5,"r":23,"v":0.9},{"c":6,"r":23,"v":0.7},{"c":7,"r":23,"v":0.8},{"c":8,"r":23,"v":0.6},{"c":9,"r":23,"v":0.9},{"c":10,"r":23,"v":0.7},{"c":11,"r":23,"v":1.0},{"c":12,"r":23,"v":1.2},{"c":13,"r":23,"v":1.1},{"c":14,"r":23,"v":0.2},{"c":15,"r":23,"v":0.4},{"c":16,"r":23,"v":0.6},{"c":17,"r":23,"v":0.4},{"c":18,"r":23,"v":0.7},{"c":19,"r":23,"v":0.5},{"c":20,"r":23,"v":0.4},{"c":21,"r":23,"v":0.6},{"c":22,"r":23,"v":0.5},{"c":23,"r":23,"v":0.3},{"c":24,"r":23,"v":0.2},{"c":25,"r":23,"v":0.4},{"c":26,"r":23,"v":0.5},{"c":27,"r":23,"v":0.6},{"c":28,"r":23,"v":0.2},{"c":29,"r":23,"v":0.5},
{"c":0,"r":24,"v":1.0},{"c":1,"r":24,"v":1.2},{"c":2,"r":24,"v":1.35},{"c":3,"r":24,"v":1.5},{"c":4,"r":24,"v":1.1},{"c":5,"r":24,"v":0.8},{"c":6,"r":24,"v":0.9},{"c":7,"r":24,"v":0.6},{"c":8,"r":24,"v":0.5},{"c":9,"r":24,"v":0.7},{"c":10,"r":24,"v":0.8},{"c":11,"r":24,"v":0.9},{"c":12,"r":24,"v":0.7},{"c":13,"r":24,"v":0.5},{"c":14,"r":24,"v":0.6},{"c":15,"r":24,"v":0.8},{"c":16,"r":24,"v":0.5},{"c":17,"r":24,"v":0.7},{"c":18,"r":24,"v":0.25},{"c":19,"r":24,"v":0.5},{"c":20,"r":24,"v":0.7},{"c":21,"r":24,"v":0.6},{"c":22,"r":24,"v":0.4},{"c":23,"r":24,"v":0.5},{"c":24,"r":24,"v":0.7},{"c":25,"r":24,"v":0.3},{"c":26,"r":24,"v":0.4},{"c":27,"r":24,"v":0.2},{"c":28,"r":24,"v":0.6},{"c":29,"r":24,"v":0.5},
{"c":0,"r":25,"v":0.8},{"c":1,"r":25,"v":1.6},{"c":2,"r":25,"v":1.2},{"c":3,"r":25,"v":1.4},{"c":4,"r":25,"v":1.0},{"c":5,"r":25,"v":0.7},{"c":6,"r":25,"v":0.8},{"c":7,"r":25,"v":0.5},{"c":8,"r":25,"v":0.7},{"c":9,"r":25,"v":0.9},{"c":10,"r":25,"v":0.6},{"c":11,"r":25,"v":0.8},{"c":12,"r":25,"v":0.7},{"c":13,"r":25,"v":0.3},{"c":14,"r":25,"v":1.3},{"c":15,"r":25,"v":0.7},{"c":16,"r":25,"v":0.5},{"c":17,"r":25,"v":0.8},{"c":18,"r":25,"v":0.6},{"c":19,"r":25,"v":0.7},{"c":20,"r":25,"v":0.9},{"c":21,"r":25,"v":0.5},{"c":22,"r":25,"v":0.7},{"c":23,"r":25,"v":0.6},{"c":24,"r":25,"v":0.2},{"c":25,"r":25,"v":0.2},{"c":26,"r":25,"v":0.25},{"c":27,"r":25,"v":0.6},{"c":28,"r":25,"v":0.4},{"c":29,"r":25,"v":0.6},
{"c":0,"r":26,"v":1.0},{"c":1,"r":26,"v":0.9},{"c":2,"r":26,"v":0.8},{"c":3,"r":26,"v":1.1},{"c":4,"r":26,"v":0.9},{"c":5,"r":26,"v":1.2},{"c":6,"r":26,"v":0.7},{"c":7,"r":26,"v":0.9},{"c":8,"r":26,"v":0.5},{"c":9,"r":26,"v":0.8},{"c":10,"r":26,"v":0.7},{"c":11,"r":26,"v":0.6},{"c":12,"r":26,"v":0.8},{"c":13,"r":26,"v":0.6},{"c":14,"r":26,"v":0.9},{"c":15,"r":26,"v":0.7},{"c":16,"r":26,"v":0.8},{"c":17,"r":26,"v":0.4},{"c":18,"r":26,"v":0.7},{"c":19,"r":26,"v":0.8},{"c":20,"r":26,"v":0.7},{"c":21,"r":26,"v":0.9},{"c":22,"r":26,"v":0.6},{"c":23,"r":26,"v":0.7},{"c":24,"r":26,"v":0.5},{"c":25,"r":26,"v":0.7},{"c":26,"r":26,"v":1.3},{"c":27,"r":26,"v":0.5},{"c":28,"r":26,"v":0.3},{"c":29,"r":26,"v":0.7},
{"c":0,"r":27,"v":0.8},{"c":1,"r":27,"v":1.1},{"c":2,"r":27,"v":0.9},{"c":3,"r":27,"v":1.0},{"c":4,"r":27,"v":0.8},{"c":5,"r":27,"v":0.9},{"c":6,"r":27,"v":0.4},{"c":7,"r":27,"v":0.7},{"c":8,"r":27,"v":1.2},{"c":9,"r":27,"v":0.8},{"c":10,"r":27,"v":0.9},{"c":11,"r":27,"v":0.7},{"c":12,"r":27,"v":0.8},{"c":13,"r":27,"v":0.5},{"c":14,"r":27,"v":0.9},{"c":15,"r":27,"v":0.6},{"c":16,"r":27,"v":1.0},{"c":17,"r":27,"v":1.1},{"c":18,"r":27,"v":0.9},{"c":19,"r":27,"v":0.7},{"c":20,"r":27,"v":1.0},{"c":21,"r":27,"v":1.3},{"c":22,"r":27,"v":0.8},{"c":23,"r":27,"v":0.6},{"c":24,"r":27,"v":0.7},{"c":25,"r":27,"v":0.6},{"c":26,"r":27,"v":0.5},{"c":27,"r":27,"v":0.7},{"c":28,"r":27,"v":0.5},
{"c":0,"r":28,"v":0.9},{"c":1,"r":28,"v":1.0},{"c":2,"r":28,"v":0.8},{"c":3,"r":28,"v":0.9},{"c":4,"r":28,"v":0.7},{"c":5,"r":28,"v":0.8},{"c":6,"r":28,"v":0.5},{"c":7,"r":28,"v":0.6},{"c":8,"r":28,"v":1.2},{"c":9,"r":28,"v":0.9},{"c":10,"r":28,"v":0.8},{"c":11,"r":28,"v":1.0},{"c":12,"r":28,"v":0.8},{"c":13,"r":28,"v":0.3},{"c":14,"r":28,"v":0.9},{"c":15,"r":28,"v":0.8},{"c":16,"r":28,"v":1.0},{"c":17,"r":28,"v":0.9},{"c":18,"r":28,"v":0.7},{"c":19,"r":28,"v":0.9},{"c":20,"r":28,"v":0.8},{"c":21,"r":28,"v":0.7},{"c":22,"r":28,"v":0.3},{"c":23,"r":28,"v":0.2},{"c":24,"r":28,"v":0.6},{"c":25,"r":28,"v":0.7},{"c":26,"r":28,"v":0.4},{"c":27,"r":28,"v":0.7},{"c":28,"r":28,"v":0.5}],
"bars":[{"x":11,"x2":50,"y":667,"y2":985},{"x":836,"x2":866,"y":192,"y2":388},{"x":1566,"x2":1601,"y":141,"y2":620}],
"seg":[{"x":50,"x2":50,"y":667,"y2":985},{"x":37,"x2":50,"y":769,"y2":769},{"x":37,"x2":50,"y":877,"y2":877},{"x":37,"x2":50,"y":985,"y2":985},{"x":866,"x2":866,"y":192,"y2":388},{"x":857,"x2":866,"y":229,"y2":229},{"x":857,"x2":866,"y":307,"y2":307},{"x":857,"x2":866,"y":387,"y2":387},{"x":635,"x2":832,"y":193,"y2":193},{"x":635,"x2":635,"y":193,"y2":207},{"x":648,"x2":648,"y":193,"y2":200},{"x":661,"x2":661,"y":193,"y2":200},{"x":674,"x2":674,"y":193,"y2":200},{"x":687,"x2":687,"y":193,"y2":200},{"x":700,"x2":700,"y":193,"y2":207},{"x":714,"x2":714,"y":193,"y2":200},{"x":727,"x2":727,"y":193,"y2":200},{"x":740,"x2":740,"y":193,"y2":200},{"x":753,"x2":753,"y":193,"y2":200},{"x":766,"x2":766,"y":193,"y2":207},{"x":779,"x2":779,"y":193,"y2":200},{"x":792,"x2":792,"y":193,"y2":200},{"x":806,"x2":806,"y":193,"y2":200},{"x":819,"x2":819,"y":193,"y2":200},{"x":832,"x2":832,"y":193,"y2":207},{"x":669,"x2":867,"y":1004,"y2":1004},{"x":669,"x2":669,"y":990,"y2":1004},{"x":702,"x2":702,"y":996,"y2":1004},{"x":735,"x2":735,"y":990,"y2":1004},{"x":768,"x2":768,"y":996,"y2":1004},{"x":800,"x2":800,"y":990,"y2":1004},{"x":833,"x2":833,"y":996,"y2":1004},{"x":867,"x2":867,"y":990,"y2":1004},{"x":1077,"x2":1077,"y":141,"y2":155},{"x":1178,"x2":1178,"y":141,"y2":155},{"x":1279,"x2":1279,"y":141,"y2":155},{"x":1077,"x2":1077,"y":607,"y2":620},{"x":1178,"x2":1178,"y":607,"y2":620},{"x":1279,"x2":1279,"y":607,"y2":620},{"x":1379,"x2":1379,"y":607,"y2":620},{"x":1480,"x2":1480,"y":607,"y2":620},{"x":1585,"x2":1599,"y":222,"y2":222},{"x":1585,"x2":1599,"y":386,"y2":386},{"x":1585,"x2":1599,"y":552,"y2":552}],
"cframe":[{"x":1055,"x2":1563,"y":141,"y2":620}],
"dash":[{"p":"d1","o":1,"x":1076,"y":619},{"p":"d1","o":2,"x":1082,"y":512},{"p":"d1","o":3,"x":1095,"y":457},{"p":"d1","o":4,"x":1129,"y":345},{"p":"d1","o":5,"x":1161,"y":275},{"p":"d1","o":6,"x":1189,"y":217},{"p":"d1","o":7,"x":1218,"y":181},{"p":"d1","o":8,"x":1255,"y":141},{"p":"d2","o":1,"x":1278,"y":619},{"p":"d2","o":2,"x":1284,"y":537},{"p":"d2","o":3,"x":1299,"y":465},{"p":"d2","o":4,"x":1320,"y":399},{"p":"d2","o":5,"x":1346,"y":355},{"p":"d2","o":6,"x":1380,"y":301},{"p":"d2","o":7,"x":1414,"y":257},{"p":"d2","o":8,"x":1465,"y":206},{"p":"d2","o":9,"x":1550,"y":141},{"p":"d3","o":1,"x":1481,"y":619},{"p":"d3","o":2,"x":1486,"y":555},{"p":"d3","o":3,"x":1503,"y":494},{"p":"d3","o":4,"x":1529,"y":435},{"p":"d3","o":5,"x":1550,"y":401},{"p":"d3","o":6,"x":1563,"y":387},{"p":"d4","o":1,"x":1221,"y":188},{"p":"d4","o":2,"x":1295,"y":235},{"p":"d4","o":3,"x":1384,"y":294},{"p":"d4","o":4,"x":1465,"y":345},{"p":"d4","o":5,"x":1562,"y":410},{"p":"d5","o":1,"x":1089,"y":495},{"p":"d5","o":2,"x":1286,"y":525},{"p":"d5","o":3,"x":1444,"y":550},{"p":"d5","o":4,"x":1563,"y":569}],
"dotb":[{"p":"f","o":1,"x":1272,"y":190},{"p":"f","o":2,"x":1291,"y":199},{"p":"f","o":3,"x":1393,"y":246},{"p":"f","o":4,"x":1545,"y":310},{"p":"f","o":5,"x":1550,"y":317},{"p":"f","o":6,"x":1516,"y":385},{"p":"f","o":7,"x":1444,"y":548},{"p":"f","o":8,"x":1424,"y":594},{"p":"f","o":9,"x":1405,"y":585},{"p":"f","o":10,"x":1286,"y":539},{"p":"f","o":11,"x":1146,"y":485},{"p":"f","o":12,"x":1139,"y":478},{"p":"f","o":13,"x":1208,"y":319},{"p":"f","o":14,"x":1252,"y":221},{"p":"f","o":15,"x":1272,"y":190}],
"diam":[{"x":1200,"y":336,"v":2.53},{"x":1207,"y":344,"v":3.08},{"x":1218,"y":343,"v":3.08},{"x":1229,"y":342,"v":2.97},{"x":1241,"y":342,"v":2.68},{"x":1194,"y":347,"v":2.9},{"x":1203,"y":354,"v":2.6},{"x":1213,"y":354,"v":2.76},{"x":1225,"y":353,"v":2.92},{"x":1236,"y":352,"v":2.95},{"x":1248,"y":350,"v":2.8}],
"cross":[{"x":1266,"y":342}],
"ic1":[{"x":1194,"y":805}],"ic2":[{"x":1194,"y":864}],"ic3":[{"x":1194,"y":921}],
"tTitle":[{"x":137,"y":38,"t":"A"},{"x":276,"y":26,"t":"KM2A"},{"x":288,"y":55,"t":"a quarter array"},{"x":663,"y":34,"t":"B"},{"x":764,"y":23,"t":"WCDA"},{"x":767,"y":53,"t":"one pond"},{"x":1207,"y":34,"t":"C"},{"x":1370,"y":23,"t":"FoV of WFCTA"},{"x":1360,"y":53,"t":"Telescope 10"}],
"tA":[{"x":56,"y":770,"t":"2"},{"x":56,"y":878,"t":"1"},{"x":56,"y":985,"t":"0"}],
"tB":[{"x":870,"y":226,"t":"2"},{"x":870,"y":304,"t":"1"},{"x":870,"y":382,"t":"0"}],
"tC":[{"x":1605,"y":222,"t":"3"},{"x":1605,"y":386,"t":"2.8"},{"x":1605,"y":552,"t":"2.6"}],
"tRot":[{"x":116,"y":957,"t":"log N"},{"x":116,"y":865,"t":"or log N"},{"x":915,"y":347,"t":"log N"},{"x":1688,"y":428,"t":"log N"}],
"tSub":[{"x":130,"y":885,"t":"e"},{"x":131,"y":754,"t":"µ"},{"x":927,"y":272,"t":"pe"},{"x":1698,"y":352,"t":"pe"}],
"tBar":[{"x":633,"y":178,"t":"0"},{"x":698,"y":178,"t":"50"},{"x":766,"y":178,"t":"100"},{"x":842,"y":178,"t":"150 m"},{"x":668,"y":1019,"t":"0"},{"x":734,"y":1019,"t":"50"},{"x":801,"y":1019,"t":"100"},{"x":873,"y":1019,"t":"150 m"}],
"tAx":[{"x":1079,"y":635,"t":"40"},{"x":1281,"y":635,"t":"30"},{"x":1483,"y":635,"t":"20"}],
"tZen":[{"x":1320,"y":674,"t":"Zenith (deg)"}],
"t175":[{"x":1202,"y":186,"t":"175"}],"t200":[{"x":1077,"y":488,"t":"200"}],
"tL1":[{"x":1240,"y":805,"t":"Telescope 10"}],"tL2":[{"x":1240,"y":863,"t":"Scintillator Counter"}],"tL3":[{"x":1240,"y":921,"t":"Muon Detector"}],
"tH":[{"x":557,"y":938,"t":"HAWC"}]
},
"encoding":{"x":{"field":"x","type":"quantitative","axis":null,"scale":{"domain":[0,1706]}},"y":{"field":"y","type":"quantitative","axis":null,"scale":{"domain":[1029,0]}}},
"resolve":{"scale":{"x":"independent","y":"independent","color":"independent"}},
"layer":[
{"data":{"name":"dots"},"mark":{"type":"circle","size":6,"color":"#b5b5b5","opacity":1}},
{"data":{"name":"sq"},"mark":{"type":"square","size":100,"opacity":1},"encoding":{"color":{"field":"v","type":"quantitative","legend":null,"scale":{"scheme":"redyellowblue","reverse":true,"domain":[0,2.94]}}}},
{"data":{"name":"mu"},"mark":{"type":"point","shape":"circle","filled":false,"size":72,"stroke":"#999999","strokeWidth":1.9,"opacity":1}},
{"data":{"name":"bigr"},"mark":{"type":"point","shape":"circle","filled":false,"size":560,"strokeWidth":3.4,"opacity":1},"encoding":{"stroke":{"field":"v","type":"quantitative","legend":null,"scale":{"scheme":"redyellowblue","reverse":true,"domain":[0,2.94]}}}},
{"data":{"name":"arrow"},"mark":{"type":"line","color":"#d7191c","strokeWidth":2.5},"encoding":{"detail":{"field":"p"},"order":{"field":"o"}}},
{"data":{"name":"whitetri"},"mark":{"type":"line","stroke":"#e0201c","fill":"white","strokeWidth":1.6},"encoding":{"detail":{"field":"p"},"order":{"field":"o"}}},
{"data":{"name":"redtri"},"mark":{"type":"line","stroke":"#e0201c","fill":"#e0201c","strokeWidth":1},"encoding":{"detail":{"field":"p"},"order":{"field":"o"}}},
{"data":{"name":"tel"},"mark":{"type":"square","size":961,"color":"black","opacity":1}},
{"data":{"name":"green"},"transform":[{"filter":"datum.p=='g1'"}],"mark":{"type":"line","color":"#25e025","strokeWidth":2.4},"encoding":{"detail":{"field":"p"},"order":{"field":"o"}}},
{"data":{"name":"inframe"},"mark":{"type":"rect","fill":"white","stroke":"#222222","strokeWidth":1.6},"encoding":{"x2":{"field":"x2"},"y2":{"field":"y2"}}},
{"data":{"name":"tan"},"mark":{"type":"line","color":"#cdbda6","strokeWidth":2,"interpolate":"catmull-rom"},"encoding":{"x":{"field":"x","type":"quantitative","axis":null,"scale":{"domain":[-1590,3528]}},"y":{"field":"y","type":"quantitative","axis":null,"scale":{"domain":[1568,-1482]}},"detail":{"field":"p"},"order":{"field":"o"}}},
{"data":{"name":"road"},"mark":{"type":"line","color":"#2b2b2b","strokeWidth":3.2,"interpolate":"catmull-rom"},"encoding":{"x":{"field":"x","type":"quantitative","axis":null,"scale":{"domain":[-1590,3528]}},"y":{"field":"y","type":"quantitative","axis":null,"scale":{"domain":[1568,-1482]}},"detail":{"field":"p"},"order":{"field":"o"}}},
{"data":{"name":"outer"},"mark":{"type":"circle","size":52,"color":"#4a7db8","opacity":1},"encoding":{"x":{"field":"x","type":"quantitative","axis":null,"scale":{"domain":[-1590,3528]}},"y":{"field":"y","type":"quantitative","axis":null,"scale":{"domain":[1568,-1482]}}}},
{"data":{"name":"tank"},"mark":{"type":"point","shape":"circle","filled":true,"size":85,"fill":"#c5dcfb","stroke":"#5b8bc6","strokeWidth":1.6,"opacity":1},"encoding":{"x":{"field":"x","type":"quantitative","axis":null,"scale":{"domain":[-1590,3528]}},"y":{"field":"y","type":"quantitative","axis":null,"scale":{"domain":[1568,-1482]}}}},
{"data":{"name":"redl"},"mark":{"type":"line","color":"#ee2d1c","strokeWidth":2.6},"encoding":{"x":{"field":"x","type":"quantitative","axis":null,"scale":{"domain":[-1590,3528]}},"y":{"field":"y","type":"quantitative","axis":null,"scale":{"domain":[1568,-1482]}},"detail":{"field":"p"},"order":{"field":"o"}}},
{"data":{"name":"redd"},"mark":{"type":"circle","size":52,"color":"#ee2d1c","opacity":1},"encoding":{"x":{"field":"x","type":"quantitative","axis":null,"scale":{"domain":[-1590,3528]}},"y":{"field":"y","type":"quantitative","axis":null,"scale":{"domain":[1568,-1482]}}}},
{"data":{"name":"heat"},"mark":{"type":"square","size":44,"opacity":1},"encoding":{"x":{"field":"c","type":"quantitative","axis":null,"scale":{"domain":[-97.45,163]}},"y":{"field":"r","type":"quantitative","axis":null,"scale":{"domain":[125.5,-29.9]}},"color":{"field":"v","type":"quantitative","legend":null,"scale":{"scheme":"redyellowblue","reverse":true,"domain":[0,2.48]}}}},
{"data":{"name":"bars"},"mark":{"type":"rect","fill":{"gradient":"linear","x1":0,"y1":1,"x2":0,"y2":0,"stops":[{"offset":0,"color":"#313695"},{"offset":0.1,"color":"#4575b4"},{"offset":0.2,"color":"#74add1"},{"offset":0.3,"color":"#abd9e9"},{"offset":0.4,"color":"#e0f3f8"},{"offset":0.5,"color":"#ffffbf"},{"offset":0.6,"color":"#fee090"},{"offset":0.7,"color":"#fdae61"},{"offset":0.8,"color":"#f46d43"},{"offset":0.9,"color":"#d73027"},{"offset":1,"color":"#a50026"}]}},"encoding":{"x2":{"field":"x2"},"y2":{"field":"y2"}}},
{"data":{"name":"cframe"},"mark":{"type":"rect","fill":"white","stroke":"#111111","strokeWidth":2.6},"encoding":{"x2":{"field":"x2"},"y2":{"field":"y2"}}},
{"data":{"name":"seg"},"mark":{"type":"rule","color":"#111111","strokeWidth":2.2},"encoding":{"x2":{"field":"x2"},"y2":{"field":"y2"}}},
{"data":{"name":"dash"},"mark":{"type":"line","color":"#111111","strokeWidth":2,"strokeDash":[11,8],"interpolate":"catmull-rom"},"encoding":{"detail":{"field":"p"},"order":{"field":"o"}}},
{"data":{"name":"dotb"},"mark":{"type":"line","color":"#222222","strokeWidth":2.8,"strokeDash":[2,11],"strokeCap":"round"},"encoding":{"detail":{"field":"p"},"order":{"field":"o"}}},
{"data":{"name":"diam"},"mark":{"type":"point","filled":true,"shape":"M-.5,-1L1,-.5L.5,1L-1,.5Z","size":150,"stroke":"black","strokeWidth":1.8,"opacity":1},"encoding":{"fill":{"field":"v","type":"quantitative","legend":null,"scale":{"scheme":"redyellowblue","reverse":true,"domain":[2.518,3.098]}}}},
{"data":{"name":"green"},"transform":[{"filter":"datum.p=='g2'"}],"mark":{"type":"line","color":"#25e025","strokeWidth":2.4},"encoding":{"detail":{"field":"p"},"order":{"field":"o"}}},
{"data":{"name":"cross"},"mark":{"type":"point","shape":"M-1,0L1,0M0,-1L0,1","size":324,"filled":false,"stroke":"#f02424","strokeWidth":2.2,"opacity":1}},
{"data":{"name":"ic1"},"mark":{"type":"square","size":529,"color":"black","opacity":1}},
{"data":{"name":"ic2"},"mark":{"type":"square","size":81,"color":"#10108c","opacity":1}},
{"data":{"name":"ic3"},"mark":{"type":"point","shape":"circle","filled":false,"size":380,"stroke":"#444444","strokeWidth":1.6,"opacity":1}},
{"data":{"name":"tTitle"},"mark":{"type":"text","font":"Liberation Sans","fontWeight":"bold","fontSize":30,"align":"center","baseline":"middle","color":"#111111"},"encoding":{"text":{"field":"t"}}},
{"data":{"name":"tA"},"mark":{"type":"text","font":"Liberation Sans","fontSize":28,"align":"left","baseline":"middle","color":"#111111"},"encoding":{"text":{"field":"t"}}},
{"data":{"name":"tB"},"mark":{"type":"text","font":"Liberation Sans","fontSize":25,"align":"left","baseline":"middle","color":"#111111"},"encoding":{"text":{"field":"t"}}},
{"data":{"name":"tC"},"mark":{"type":"text","font":"Liberation Sans","fontSize":31,"align":"left","baseline":"middle","color":"#111111"},"encoding":{"text":{"field":"t"}}},
{"data":{"name":"tRot"},"mark":{"type":"text","font":"Liberation Sans","fontWeight":"bold","fontSize":29,"angle":270,"align":"left","baseline":"alphabetic","color":"#111111"},"encoding":{"text":{"field":"t"}}},
{"data":{"name":"tSub"},"mark":{"type":"text","font":"Liberation Sans","fontSize":20,"angle":270,"align":"left","baseline":"alphabetic","color":"#111111"},"encoding":{"text":{"field":"t"}}},
{"data":{"name":"tBar"},"mark":{"type":"text","font":"Liberation Sans","fontWeight":"bold","fontSize":20,"align":"center","baseline":"middle","color":"#111111"},"encoding":{"text":{"field":"t"}}},
{"data":{"name":"tAx"},"mark":{"type":"text","font":"Liberation Sans","fontSize":25,"align":"center","baseline":"middle","color":"#111111"},"encoding":{"text":{"field":"t"}}},
{"data":{"name":"tZen"},"mark":{"type":"text","font":"Liberation Sans","fontWeight":"bold","fontSize":27.5,"align":"center","baseline":"middle","color":"#111111"},"encoding":{"text":{"field":"t"}}},
{"data":{"name":"t175"},"mark":{"type":"text","font":"Liberation Sans","fontWeight":"bold","fontSize":23,"angle":300,"align":"center","baseline":"middle","color":"#111111"},"encoding":{"text":{"field":"t"}}},
{"data":{"name":"t200"},"mark":{"type":"text","font":"Liberation Sans","fontWeight":"bold","fontSize":23,"angle":280,"align":"center","baseline":"middle","color":"#111111"},"encoding":{"text":{"field":"t"}}},
{"data":{"name":"tL1"},"mark":{"type":"text","font":"Liberation Sans","fontSize":25,"align":"left","baseline":"middle","color":"#333333"},"encoding":{"text":{"field":"t"}}},
{"data":{"name":"tL2"},"mark":{"type":"text","font":"Liberation Sans","fontSize":30,"align":"left","baseline":"middle","color":"#0a0a8c"},"encoding":{"text":{"field":"t"}}},
{"data":{"name":"tL3"},"mark":{"type":"text","font":"Liberation Sans","fontSize":30,"align":"left","baseline":"middle","color":"#444444"},"encoding":{"text":{"field":"t"}}},
{"data":{"name":"tH"},"mark":{"type":"text","font":"Open Sans","fontWeight":"bold","fontSize":31,"align":"left","baseline":"alphabetic","color":"#00806b"},"encoding":{"text":{"field":"t"}}}
]}
